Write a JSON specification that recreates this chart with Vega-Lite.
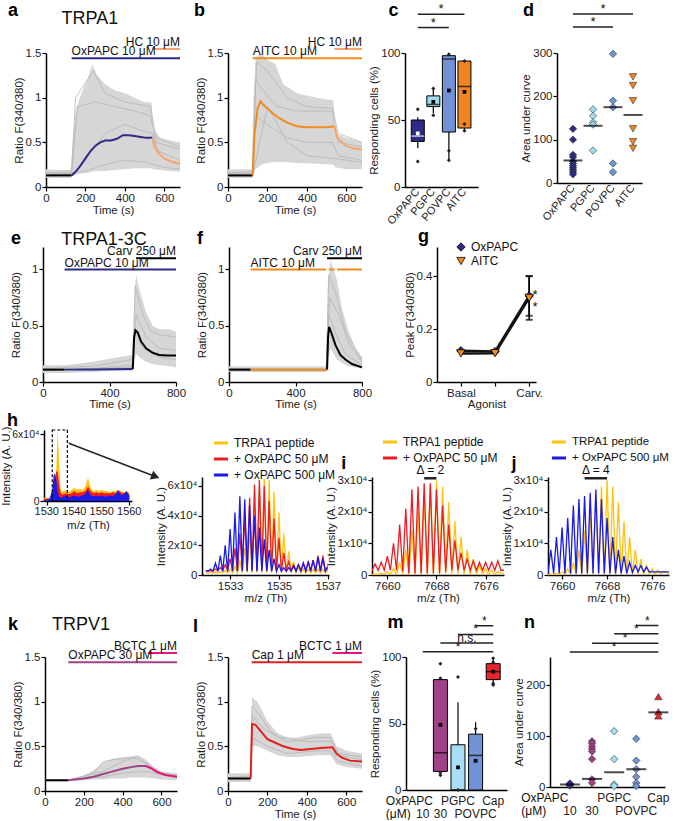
{
"$schema":"https://vega.github.io/schema/vega-lite/v6.json",
"background":"white",
"padding":{"left":0,"top":2,"right":0,"bottom":0},
"config":{
 "font":"Liberation Sans",
 "view":{"stroke":null},
 "axis":{"grid":false,"domainColor":"#000","tickColor":"#000","domainWidth":1.5,"tickWidth":1.2,"tickSize":4,"labelFontSize":11.5,"titleFontSize":11.5,"labelColor":"#222","titleColor":"#222","titleFontWeight":"normal","labelFont":"Liberation Sans","titleFont":"Liberation Sans","labelFlush":false,"labelOverlap":false,"titlePadding":1,"labelPadding":1},
 "text":{"font":"Liberation Sans","fontSize":12,"color":"#111"},
 "legend":{"labelFont":"Liberation Sans","labelFontSize":12,"labelColor":"#111"}
},
"datasets":{
 "a_band":[{"time":0,"lo":0.10,"hi":0.20},{"time":60,"lo":0.10,"hi":0.19},{"time":125,"lo":0.10,"hi":0.19},{"time":135,"lo":0.12,"hi":0.50},{"time":150,"lo":0.14,"hi":0.85},{"time":180,"lo":0.15,"hi":1.05},{"time":210,"lo":0.16,"hi":1.20},{"time":235,"lo":0.17,"hi":1.37},{"time":260,"lo":0.18,"hi":1.25},{"time":300,"lo":0.18,"hi":1.15},{"time":350,"lo":0.19,"hi":1.08},{"time":400,"lo":0.20,"hi":1.05},{"time":450,"lo":0.21,"hi":1.00},{"time":500,"lo":0.21,"hi":0.95},{"time":535,"lo":0.21,"hi":0.95},{"time":545,"lo":0.20,"hi":0.65},{"time":580,"lo":0.19,"hi":0.55},{"time":630,"lo":0.18,"hi":0.52},{"time":680,"lo":0.17,"hi":0.50}],
 "a_grey":[{"cell":1,"time":0,"ratio":0.15},{"cell":1,"time":130,"ratio":0.15},{"cell":1,"time":160,"ratio":0.9},{"cell":1,"time":250,"ratio":0.95},{"cell":1,"time":350,"ratio":0.9},{"cell":1,"time":450,"ratio":0.85},{"cell":1,"time":530,"ratio":0.8},{"cell":1,"time":560,"ratio":0.5},{"cell":1,"time":680,"ratio":0.42},
  {"cell":2,"time":0,"ratio":0.13},{"cell":2,"time":140,"ratio":0.14},{"cell":2,"time":200,"ratio":0.3},{"cell":2,"time":300,"ratio":0.6},{"cell":2,"time":400,"ratio":0.7},{"cell":2,"time":500,"ratio":0.62},{"cell":2,"time":540,"ratio":0.6},{"cell":2,"time":570,"ratio":0.4},{"cell":2,"time":680,"ratio":0.3},
  {"cell":3,"time":0,"ratio":0.16},{"cell":3,"time":130,"ratio":0.17},{"cell":3,"time":150,"ratio":1.0},{"cell":3,"time":240,"ratio":1.3},{"cell":3,"time":300,"ratio":1.05},{"cell":3,"time":400,"ratio":0.95},{"cell":3,"time":530,"ratio":0.9},{"cell":3,"time":560,"ratio":0.55},{"cell":3,"time":680,"ratio":0.45},
  {"cell":4,"time":0,"ratio":0.12},{"cell":4,"time":200,"ratio":0.18},{"cell":4,"time":300,"ratio":0.25},{"cell":4,"time":400,"ratio":0.3},{"cell":4,"time":500,"ratio":0.28},{"cell":4,"time":600,"ratio":0.22},{"cell":4,"time":680,"ratio":0.2}],
 "a_mean":[{"phase":"baseline","time":0,"ratio":0.13},{"phase":"baseline","time":60,"ratio":0.13},{"phase":"baseline","time":130,"ratio":0.13},
  {"phase":"OxPAPC","time":130,"ratio":0.13},{"phase":"OxPAPC","time":150,"ratio":0.17},{"phase":"OxPAPC","time":175,"ratio":0.24},{"phase":"OxPAPC","time":200,"ratio":0.32},{"phase":"OxPAPC","time":225,"ratio":0.40},{"phase":"OxPAPC","time":250,"ratio":0.46},{"phase":"OxPAPC","time":275,"ratio":0.50},{"phase":"OxPAPC","time":300,"ratio":0.52},{"phase":"OxPAPC","time":330,"ratio":0.52},{"phase":"OxPAPC","time":360,"ratio":0.54},{"phase":"OxPAPC","time":390,"ratio":0.58},{"phase":"OxPAPC","time":420,"ratio":0.58},{"phase":"OxPAPC","time":450,"ratio":0.57},{"phase":"OxPAPC","time":480,"ratio":0.56},{"phase":"OxPAPC","time":510,"ratio":0.55},{"phase":"OxPAPC","time":540,"ratio":0.55},
  {"phase":"HC","time":540,"ratio":0.55},{"phase":"HC","time":550,"ratio":0.45},{"phase":"HC","time":570,"ratio":0.38},{"phase":"HC","time":600,"ratio":0.32},{"phase":"HC","time":640,"ratio":0.28},{"phase":"HC","time":680,"ratio":0.26}],
 "a_drugs":[{"phase":"OxPAPC","from":130,"to":680,"level":1,"label":"OxPAPC 10 μM"},{"phase":"HC","from":540,"to":680,"level":2,"label":"HC 10 μM"}],
 "b_band":[{"time":0,"lo":0.10,"hi":0.20},{"time":120,"lo":0.10,"hi":0.20},{"time":130,"lo":0.15,"hi":1.0},{"time":140,"lo":0.2,"hi":1.45},{"time":170,"lo":0.25,"hi":1.5},{"time":200,"lo":0.27,"hi":1.42},{"time":240,"lo":0.28,"hi":1.38},{"time":280,"lo":0.28,"hi":1.15},{"time":350,"lo":0.27,"hi":1.05},{"time":450,"lo":0.26,"hi":1.0},{"time":535,"lo":0.25,"hi":0.97},{"time":545,"lo":0.22,"hi":0.6},{"time":600,"lo":0.2,"hi":0.55},{"time":680,"lo":0.2,"hi":0.5}],
 "b_grey":[{"cell":1,"time":0,"ratio":0.15},{"cell":1,"time":125,"ratio":0.15},{"cell":1,"time":140,"ratio":1.2},{"cell":1,"time":170,"ratio":1.1},{"cell":1,"time":250,"ratio":0.9},{"cell":1,"time":350,"ratio":0.85},{"cell":1,"time":530,"ratio":0.85},{"cell":1,"time":560,"ratio":0.5},{"cell":1,"time":680,"ratio":0.45},
  {"cell":2,"time":0,"ratio":0.13},{"cell":2,"time":125,"ratio":0.13},{"cell":2,"time":200,"ratio":0.9},{"cell":2,"time":240,"ratio":0.75},{"cell":2,"time":300,"ratio":0.5},{"cell":2,"time":400,"ratio":0.35},{"cell":2,"time":530,"ratio":0.32},{"cell":2,"time":680,"ratio":0.28},
  {"cell":3,"time":0,"ratio":0.16},{"cell":3,"time":125,"ratio":0.17},{"cell":3,"time":145,"ratio":1.4},{"cell":3,"time":200,"ratio":1.3},{"cell":3,"time":300,"ratio":1.0},{"cell":3,"time":400,"ratio":0.9},{"cell":3,"time":530,"ratio":0.88},{"cell":3,"time":560,"ratio":0.6},{"cell":3,"time":680,"ratio":0.5},
  {"cell":4,"time":0,"ratio":0.12},{"cell":4,"time":125,"ratio":0.12},{"cell":4,"time":135,"ratio":0.8},{"cell":4,"time":200,"ratio":0.7},{"cell":4,"time":300,"ratio":0.55},{"cell":4,"time":400,"ratio":0.5},{"cell":4,"time":530,"ratio":0.5},{"cell":4,"time":560,"ratio":0.35},{"cell":4,"time":680,"ratio":0.3}],
 "b_mean":[{"phase":"baseline","time":0,"ratio":0.13},{"phase":"baseline","time":60,"ratio":0.13},{"phase":"baseline","time":125,"ratio":0.13},
  {"phase":"AITC","time":125,"ratio":0.13},{"phase":"AITC","time":135,"ratio":0.6},{"phase":"AITC","time":150,"ratio":0.88},{"phase":"AITC","time":165,"ratio":0.96},{"phase":"AITC","time":180,"ratio":0.92},{"phase":"AITC","time":200,"ratio":0.88},{"phase":"AITC","time":230,"ratio":0.82},{"phase":"AITC","time":260,"ratio":0.77},{"phase":"AITC","time":300,"ratio":0.72},{"phase":"AITC","time":350,"ratio":0.68},{"phase":"AITC","time":400,"ratio":0.67},{"phase":"AITC","time":450,"ratio":0.67},{"phase":"AITC","time":500,"ratio":0.67},{"phase":"AITC","time":540,"ratio":0.68},
  {"phase":"HC","time":540,"ratio":0.68},{"phase":"HC","time":555,"ratio":0.55},{"phase":"HC","time":600,"ratio":0.46},{"phase":"HC","time":640,"ratio":0.43},{"phase":"HC","time":680,"ratio":0.42}],
 "b_drugs":[{"phase":"AITC","from":125,"to":680,"level":1,"label":"AITC 10 μM"},{"phase":"HC","from":540,"to":680,"level":2,"label":"HC 10 μM"}],
 "e_band":[{"time":0,"lo":0.08,"hi":0.15},{"time":130,"lo":0.08,"hi":0.15},{"time":300,"lo":0.09,"hi":0.18},{"time":450,"lo":0.1,"hi":0.22},{"time":540,"lo":0.1,"hi":0.24},{"time":550,"lo":0.2,"hi":0.8},{"time":560,"lo":0.25,"hi":0.95},{"time":580,"lo":0.22,"hi":0.82},{"time":620,"lo":0.18,"hi":0.62},{"time":660,"lo":0.16,"hi":0.5},{"time":700,"lo":0.15,"hi":0.47},{"time":760,"lo":0.14,"hi":0.47},{"time":800,"lo":0.13,"hi":0.45}],
 "e_grey":[{"cell":1,"time":0,"ratio":0.12},{"cell":1,"time":300,"ratio":0.14},{"cell":1,"time":540,"ratio":0.2},{"cell":1,"time":555,"ratio":0.85},{"cell":1,"time":600,"ratio":0.6},{"cell":1,"time":650,"ratio":0.45},{"cell":1,"time":700,"ratio":0.42},{"cell":1,"time":800,"ratio":0.4},
  {"cell":2,"time":0,"ratio":0.1},{"cell":2,"time":300,"ratio":0.12},{"cell":2,"time":540,"ratio":0.15},{"cell":2,"time":555,"ratio":0.45},{"cell":2,"time":600,"ratio":0.3},{"cell":2,"time":700,"ratio":0.22},{"cell":2,"time":800,"ratio":0.2},
  {"cell":3,"time":0,"ratio":0.11},{"cell":3,"time":540,"ratio":0.13},{"cell":3,"time":560,"ratio":0.6},{"cell":3,"time":620,"ratio":0.4},{"cell":3,"time":700,"ratio":0.3},{"cell":3,"time":800,"ratio":0.28}],
 "e_mean":[{"phase":"baseline","time":0,"ratio":0.11},{"phase":"baseline","time":130,"ratio":0.11},
  {"phase":"OxPAPC","time":130,"ratio":0.11},{"phase":"OxPAPC","time":300,"ratio":0.112},{"phase":"OxPAPC","time":540,"ratio":0.115},
  {"phase":"Carv","time":540,"ratio":0.115},{"phase":"Carv","time":548,"ratio":0.4},{"phase":"Carv","time":556,"ratio":0.46},{"phase":"Carv","time":570,"ratio":0.44},{"phase":"Carv","time":590,"ratio":0.36},{"phase":"Carv","time":620,"ratio":0.3},{"phase":"Carv","time":660,"ratio":0.26},{"phase":"Carv","time":700,"ratio":0.24},{"phase":"Carv","time":750,"ratio":0.235},{"phase":"Carv","time":800,"ratio":0.235}],
 "e_drugs":[{"phase":"OxPAPC","from":130,"to":800,"level":1,"label":"OxPAPC 10 μM"},{"phase":"Carv","from":560,"to":800,"level":2,"label":"Carv 250 μM"}],
 "f_band":[{"time":0,"lo":0.09,"hi":0.14},{"time":130,"lo":0.09,"hi":0.14},{"time":585,"lo":0.09,"hi":0.14},{"time":595,"lo":0.2,"hi":0.9},{"time":610,"lo":0.3,"hi":1.08},{"time":630,"lo":0.25,"hi":1.0},{"time":650,"lo":0.2,"hi":0.9},{"time":680,"lo":0.17,"hi":0.65},{"time":720,"lo":0.14,"hi":0.45},{"time":760,"lo":0.13,"hi":0.3},{"time":800,"lo":0.12,"hi":0.22}],
 "f_grey":[{"cell":1,"time":0,"ratio":0.11},{"cell":1,"time":585,"ratio":0.11},{"cell":1,"time":600,"ratio":0.95},{"cell":1,"time":640,"ratio":0.8},{"cell":1,"time":700,"ratio":0.45},{"cell":1,"time":800,"ratio":0.2},
  {"cell":2,"time":0,"ratio":0.12},{"cell":2,"time":585,"ratio":0.12},{"cell":2,"time":600,"ratio":0.6},{"cell":2,"time":650,"ratio":0.4},{"cell":2,"time":700,"ratio":0.25},{"cell":2,"time":800,"ratio":0.15},
  {"cell":3,"time":0,"ratio":0.1},{"cell":3,"time":585,"ratio":0.1},{"cell":3,"time":605,"ratio":0.75},{"cell":3,"time":660,"ratio":0.6},{"cell":3,"time":720,"ratio":0.35},{"cell":3,"time":800,"ratio":0.18}],
 "f_mean":[{"phase":"baseline","time":0,"ratio":0.11},{"phase":"baseline","time":130,"ratio":0.11},
  {"phase":"AITC","time":130,"ratio":0.11},{"phase":"AITC","time":590,"ratio":0.11},
  {"phase":"Carv","time":590,"ratio":0.11},{"phase":"Carv","time":596,"ratio":0.4},{"phase":"Carv","time":602,"ratio":0.49},{"phase":"Carv","time":615,"ratio":0.44},{"phase":"Carv","time":640,"ratio":0.33},{"phase":"Carv","time":670,"ratio":0.24},{"phase":"Carv","time":700,"ratio":0.2},{"phase":"Carv","time":740,"ratio":0.16},{"phase":"Carv","time":800,"ratio":0.13}],
 "f_drugs":[{"phase":"AITC","from":130,"to":585,"level":1,"label":"AITC 10 μM"},{"phase":"AITC","from":600,"to":635,"level":1,"label":""},{"phase":"AITC","from":650,"to":800,"level":1,"label":""},{"phase":"Carv","from":590,"to":800,"level":2,"label":"Carv 250 μM"}],
 "k_band":[{"time":0,"lo":0.11,"hi":0.13},{"time":120,"lo":0.11,"hi":0.13},{"time":200,"lo":0.12,"hi":0.17},{"time":260,"lo":0.13,"hi":0.25},{"time":300,"lo":0.13,"hi":0.32},{"time":350,"lo":0.14,"hi":0.36},{"time":400,"lo":0.14,"hi":0.38},{"time":450,"lo":0.15,"hi":0.39},{"time":480,"lo":0.15,"hi":0.40},{"time":520,"lo":0.15,"hi":0.35},{"time":560,"lo":0.14,"hi":0.27},{"time":600,"lo":0.13,"hi":0.22},{"time":680,"lo":0.12,"hi":0.2}],
 "k_grey":[{"cell":1,"time":0,"ratio":0.12},{"cell":1,"time":120,"ratio":0.12},{"cell":1,"time":250,"ratio":0.2},{"cell":1,"time":300,"ratio":0.33},{"cell":1,"time":350,"ratio":0.35},{"cell":1,"time":400,"ratio":0.36},{"cell":1,"time":480,"ratio":0.38},{"cell":1,"time":520,"ratio":0.3},{"cell":1,"time":600,"ratio":0.2},{"cell":1,"time":680,"ratio":0.18},
  {"cell":2,"time":0,"ratio":0.12},{"cell":2,"time":120,"ratio":0.12},{"cell":2,"time":300,"ratio":0.22},{"cell":2,"time":400,"ratio":0.33},{"cell":2,"time":450,"ratio":0.37},{"cell":2,"time":520,"ratio":0.32},{"cell":2,"time":600,"ratio":0.2},{"cell":2,"time":680,"ratio":0.17},
  {"cell":3,"time":0,"ratio":0.12},{"cell":3,"time":120,"ratio":0.12},{"cell":3,"time":300,"ratio":0.16},{"cell":3,"time":400,"ratio":0.2},{"cell":3,"time":520,"ratio":0.22},{"cell":3,"time":680,"ratio":0.15}],
 "k_mean":[{"phase":"baseline","time":0,"ratio":0.12},{"phase":"baseline","time":120,"ratio":0.12},
  {"phase":"OxPAPC","time":120,"ratio":0.12},{"phase":"OxPAPC","time":200,"ratio":0.14},{"phase":"OxPAPC","time":250,"ratio":0.16},{"phase":"OxPAPC","time":300,"ratio":0.19},{"phase":"OxPAPC","time":350,"ratio":0.22},{"phase":"OxPAPC","time":400,"ratio":0.25},{"phase":"OxPAPC","time":450,"ratio":0.27},{"phase":"OxPAPC","time":480,"ratio":0.28},{"phase":"OxPAPC","time":520,"ratio":0.28},
  {"phase":"BCTC","time":520,"ratio":0.28},{"phase":"BCTC","time":550,"ratio":0.25},{"phase":"BCTC","time":580,"ratio":0.21},{"phase":"BCTC","time":620,"ratio":0.18},{"phase":"BCTC","time":680,"ratio":0.16}],
 "k_drugs":[{"phase":"OxPAPC","from":120,"to":680,"level":1,"label":"OxPAPC 30 μM"},{"phase":"BCTC","from":530,"to":680,"level":2,"label":"BCTC 1 μM"}],
 "l_band":[{"time":0,"lo":0.1,"hi":0.2},{"time":115,"lo":0.1,"hi":0.2},{"time":122,"lo":0.5,"hi":1.05},{"time":150,"lo":0.5,"hi":1.0},{"time":200,"lo":0.45,"hi":0.78},{"time":250,"lo":0.4,"hi":0.65},{"time":300,"lo":0.38,"hi":0.6},{"time":350,"lo":0.38,"hi":0.6},{"time":400,"lo":0.39,"hi":0.62},{"time":450,"lo":0.4,"hi":0.64},{"time":520,"lo":0.4,"hi":0.65},{"time":550,"lo":0.3,"hi":0.5},{"time":600,"lo":0.27,"hi":0.45},{"time":680,"lo":0.25,"hi":0.42}],
 "l_grey":[{"cell":1,"time":0,"ratio":0.14},{"cell":1,"time":115,"ratio":0.15},{"cell":1,"time":122,"ratio":0.95},{"cell":1,"time":160,"ratio":0.85},{"cell":1,"time":220,"ratio":0.65},{"cell":1,"time":300,"ratio":0.55},{"cell":1,"time":450,"ratio":0.6},{"cell":1,"time":520,"ratio":0.6},{"cell":1,"time":560,"ratio":0.42},{"cell":1,"time":680,"ratio":0.38},
  {"cell":2,"time":0,"ratio":0.12},{"cell":2,"time":115,"ratio":0.13},{"cell":2,"time":122,"ratio":0.6},{"cell":2,"time":200,"ratio":0.5},{"cell":2,"time":300,"ratio":0.42},{"cell":2,"time":450,"ratio":0.45},{"cell":2,"time":520,"ratio":0.45},{"cell":2,"time":560,"ratio":0.33},{"cell":2,"time":680,"ratio":0.28},
  {"cell":3,"time":0,"ratio":0.15},{"cell":3,"time":115,"ratio":0.17},{"cell":3,"time":122,"ratio":0.85},{"cell":3,"time":180,"ratio":0.7},{"cell":3,"time":260,"ratio":0.6},{"cell":3,"time":400,"ratio":0.55},{"cell":3,"time":520,"ratio":0.56},{"cell":3,"time":560,"ratio":0.4},{"cell":3,"time":680,"ratio":0.35}],
 "l_mean":[{"phase":"baseline","time":0,"ratio":0.14},{"phase":"baseline","time":115,"ratio":0.14},
  {"phase":"Cap","time":115,"ratio":0.14},{"phase":"Cap","time":122,"ratio":0.75},{"phase":"Cap","time":140,"ratio":0.74},{"phase":"Cap","time":170,"ratio":0.66},{"phase":"Cap","time":200,"ratio":0.58},{"phase":"Cap","time":240,"ratio":0.54},{"phase":"Cap","time":280,"ratio":0.5},{"phase":"Cap","time":330,"ratio":0.47},{"phase":"Cap","time":370,"ratio":0.46},{"phase":"Cap","time":420,"ratio":0.47},{"phase":"Cap","time":470,"ratio":0.48},{"phase":"Cap","time":530,"ratio":0.49},{"phase":"Cap","time":550,"ratio":0.42},{"phase":"Cap","time":580,"ratio":0.37},{"phase":"Cap","time":620,"ratio":0.34},{"phase":"Cap","time":680,"ratio":0.33}],
 "l_drugs":[{"phase":"Cap","from":120,"to":680,"level":1,"label":"Cap 1 μM"},{"phase":"BCTC","from":530,"to":680,"level":2,"label":"BCTC 1 μM"}],
 "c_box":[{"agent":"OxPAPC","i":0,"lo":29,"q1":34,"med":38,"q3":50,"hi":52,"mean":40},{"agent":"PGPC","i":1,"lo":55,"q1":60,"med":61.5,"q3":68,"hi":73,"mean":63.5},{"agent":"POVPC","i":2,"lo":20,"q1":41,"med":95.5,"q3":98,"hi":99,"mean":72},{"agent":"AITC","i":3,"lo":41,"q1":44,"med":75,"q3":94,"hi":94,"mean":71}],
 "c_pts":[{"agent":"OxPAPC","i":0,"pct":58},{"agent":"OxPAPC","i":0,"pct":19},{"agent":"PGPC","i":1,"pct":73.5},{"agent":"PGPC","i":1,"pct":53.5},{"agent":"POVPC","i":2,"pct":99},{"agent":"POVPC","i":2,"pct":27},{"agent":"POVPC","i":2,"pct":20},{"agent":"AITC","i":3,"pct":94},{"agent":"AITC","i":3,"pct":47},{"agent":"AITC","i":3,"pct":42}],
 "c_sig":[{"from":0,"to":2,"mid":1,"bracket":119,"label":"*"},{"from":0,"to":3,"mid":1.5,"bracket":129,"label":"*"}],
 "d_pts":[{"agent":"OxPAPC","i":0,"auc":125},{"agent":"OxPAPC","i":0,"auc":100},{"agent":"OxPAPC","i":0,"auc":65},{"agent":"OxPAPC","i":0,"auc":60},{"agent":"OxPAPC","i":0,"auc":50},{"agent":"OxPAPC","i":0,"auc":45},{"agent":"OxPAPC","i":0,"auc":40},{"agent":"OxPAPC","i":0,"auc":35},{"agent":"OxPAPC","i":0,"auc":30},{"agent":"OxPAPC","i":0,"auc":25},{"agent":"OxPAPC","i":0,"auc":20},
  {"agent":"PGPC","i":1,"auc":170},{"agent":"PGPC","i":1,"auc":155},{"agent":"PGPC","i":1,"auc":140},{"agent":"PGPC","i":1,"auc":135},{"agent":"PGPC","i":1,"auc":75},
  {"agent":"POVPC","i":2,"auc":298},{"agent":"POVPC","i":2,"auc":190},{"agent":"POVPC","i":2,"auc":175},{"agent":"POVPC","i":2,"auc":45},{"agent":"POVPC","i":2,"auc":25},
  {"agent":"AITC","i":3,"auc":245},{"agent":"AITC","i":3,"auc":225},{"agent":"AITC","i":3,"auc":190},{"agent":"AITC","i":3,"auc":125},{"agent":"AITC","i":3,"auc":95},{"agent":"AITC","i":3,"auc":80}],
 "d_mean":[{"agent":"OxPAPC","i":0,"auc":52},{"agent":"PGPC","i":1,"auc":132},{"agent":"POVPC","i":2,"auc":175},{"agent":"AITC","i":3,"auc":157}],
 "d_sig":[{"from":0,"to":2,"mid":1,"bracket":360,"label":"*"},{"from":0,"to":3,"mid":1.5,"bracket":390,"label":"*"}],
 "g_pts":[{"agonist":"OxPAPC","stage":0,"peak":0.118},{"agonist":"OxPAPC","stage":1,"peak":0.115},{"agonist":"OxPAPC","stage":2,"peak":0.325},{"agonist":"AITC","stage":0,"peak":0.108},{"agonist":"AITC","stage":1,"peak":0.109},{"agonist":"AITC","stage":2,"peak":0.318}],
 "g_err":[{"agonist":"OxPAPC","stage":2,"lo":0.25,"hi":0.40},{"agonist":"AITC","stage":2,"lo":0.235,"hi":0.40}],
 "h_ticks":[{"mz":1530},{"mz":1540},{"mz":1550},{"mz":1560}],
 "mn_cats":[{"i":0,"cat":"10","tier":2},{"i":1,"cat":"30","tier":2},{"i":2,"cat":"PGPC","tier":1},{"i":3,"cat":"POVPC","tier":2},{"i":4,"cat":"Cap","tier":1}],
 "h_full":[
  {"sample":"pep","mz":1529,"intensity":3000},{"sample":"pep","mz":1530,"intensity":3000},{"sample":"pep","mz":1531,"intensity":3000},{"sample":"pep","mz":1532,"intensity":4000},{"sample":"pep","mz":1532.5,"intensity":6000},{"sample":"pep","mz":1533,"intensity":15000},{"sample":"pep","mz":1533.5,"intensity":30000},{"sample":"pep","mz":1534,"intensity":64000},{"sample":"pep","mz":1534.5,"intensity":35000},{"sample":"pep","mz":1535,"intensity":12000},{"sample":"pep","mz":1535.5,"intensity":8000},{"sample":"pep","mz":1536,"intensity":9000},{"sample":"pep","mz":1537,"intensity":10000},{"sample":"pep","mz":1538,"intensity":8000},{"sample":"pep","mz":1539,"intensity":10000},{"sample":"pep","mz":1540,"intensity":12000},{"sample":"pep","mz":1541,"intensity":10000},{"sample":"pep","mz":1542,"intensity":11000},{"sample":"pep","mz":1543,"intensity":10000},{"sample":"pep","mz":1544,"intensity":13000},{"sample":"pep","mz":1545,"intensity":21000},{"sample":"pep","mz":1546,"intensity":12000},{"sample":"pep","mz":1547,"intensity":9000},{"sample":"pep","mz":1548,"intensity":10000},{"sample":"pep","mz":1549,"intensity":9000},{"sample":"pep","mz":1550,"intensity":10000},{"sample":"pep","mz":1551,"intensity":9000},{"sample":"pep","mz":1552,"intensity":9000},{"sample":"pep","mz":1553,"intensity":8000},{"sample":"pep","mz":1554,"intensity":9000},{"sample":"pep","mz":1555,"intensity":9000},{"sample":"pep","mz":1556,"intensity":10000},{"sample":"pep","mz":1557,"intensity":9000},{"sample":"pep","mz":1558,"intensity":8000},{"sample":"pep","mz":1559,"intensity":9000},{"sample":"pep","mz":1560,"intensity":8000},
  {"sample":"ox50","mz":1529,"intensity":2000},{"sample":"ox50","mz":1530,"intensity":2000},{"sample":"ox50","mz":1531,"intensity":2000},{"sample":"ox50","mz":1532,"intensity":4000},{"sample":"ox50","mz":1532.5,"intensity":8000},{"sample":"ox50","mz":1533,"intensity":20000},{"sample":"ox50","mz":1533.5,"intensity":27000},{"sample":"ox50","mz":1534,"intensity":26000},{"sample":"ox50","mz":1534.5,"intensity":15000},{"sample":"ox50","mz":1535,"intensity":8000},{"sample":"ox50","mz":1535.5,"intensity":6000},{"sample":"ox50","mz":1536,"intensity":6000},{"sample":"ox50","mz":1537,"intensity":7000},{"sample":"ox50","mz":1538,"intensity":6000},{"sample":"ox50","mz":1539,"intensity":7000},{"sample":"ox50","mz":1540,"intensity":9000},{"sample":"ox50","mz":1541,"intensity":7000},{"sample":"ox50","mz":1542,"intensity":8000},{"sample":"ox50","mz":1543,"intensity":8000},{"sample":"ox50","mz":1544,"intensity":9000},{"sample":"ox50","mz":1545,"intensity":13000},{"sample":"ox50","mz":1546,"intensity":9000},{"sample":"ox50","mz":1547,"intensity":7000},{"sample":"ox50","mz":1548,"intensity":8000},{"sample":"ox50","mz":1549,"intensity":7000},{"sample":"ox50","mz":1550,"intensity":8000},{"sample":"ox50","mz":1551,"intensity":7000},{"sample":"ox50","mz":1552,"intensity":7000},{"sample":"ox50","mz":1553,"intensity":7000},{"sample":"ox50","mz":1554,"intensity":8000},{"sample":"ox50","mz":1555,"intensity":7000},{"sample":"ox50","mz":1556,"intensity":9000},{"sample":"ox50","mz":1557,"intensity":8000},{"sample":"ox50","mz":1558,"intensity":7000},{"sample":"ox50","mz":1559,"intensity":8000},{"sample":"ox50","mz":1560,"intensity":6000},
  {"sample":"ox500","mz":1529,"intensity":1000},{"sample":"ox500","mz":1530,"intensity":1000},{"sample":"ox500","mz":1531,"intensity":2000},{"sample":"ox500","mz":1532,"intensity":10000},{"sample":"ox500","mz":1532.5,"intensity":23000},{"sample":"ox500","mz":1533,"intensity":25000},{"sample":"ox500","mz":1533.5,"intensity":18000},{"sample":"ox500","mz":1534,"intensity":8000},{"sample":"ox500","mz":1534.5,"intensity":4000},{"sample":"ox500","mz":1535,"intensity":3000},{"sample":"ox500","mz":1535.5,"intensity":3000},{"sample":"ox500","mz":1536,"intensity":4000},{"sample":"ox500","mz":1537,"intensity":5000},{"sample":"ox500","mz":1538,"intensity":3000},{"sample":"ox500","mz":1539,"intensity":4000},{"sample":"ox500","mz":1540,"intensity":5000},{"sample":"ox500","mz":1541,"intensity":4000},{"sample":"ox500","mz":1542,"intensity":4000},{"sample":"ox500","mz":1543,"intensity":5000},{"sample":"ox500","mz":1544,"intensity":6000},{"sample":"ox500","mz":1545,"intensity":10000},{"sample":"ox500","mz":1546,"intensity":5000},{"sample":"ox500","mz":1547,"intensity":4000},{"sample":"ox500","mz":1548,"intensity":5000},{"sample":"ox500","mz":1549,"intensity":4000},{"sample":"ox500","mz":1550,"intensity":5000},{"sample":"ox500","mz":1551,"intensity":4000},{"sample":"ox500","mz":1552,"intensity":4000},{"sample":"ox500","mz":1553,"intensity":5000},{"sample":"ox500","mz":1554,"intensity":4000},{"sample":"ox500","mz":1555,"intensity":6000},{"sample":"ox500","mz":1556,"intensity":10000},{"sample":"ox500","mz":1557,"intensity":5000},{"sample":"ox500","mz":1558,"intensity":6000},{"sample":"ox500","mz":1559,"intensity":9000},{"sample":"ox500","mz":1560,"intensity":5000}],
 "h_zoom":[
  {"sample":"pep","mz":1532.0,"intensity":2000},{"sample":"pep","mz":1532.1,"intensity":1500},{"sample":"pep","mz":1532.2,"intensity":2000},{"sample":"pep","mz":1532.3,"intensity":1500},{"sample":"pep","mz":1532.4,"intensity":2000},{"sample":"pep","mz":1532.5,"intensity":1500},{"sample":"pep","mz":1532.6,"intensity":2000},{"sample":"pep","mz":1532.7,"intensity":1500},{"sample":"pep","mz":1532.8,"intensity":3000},{"sample":"pep","mz":1532.9,"intensity":1500},{"sample":"pep","mz":1533.0,"intensity":4000},{"sample":"pep","mz":1533.1,"intensity":1500},{"sample":"pep","mz":1533.2,"intensity":6000},{"sample":"pep","mz":1533.3,"intensity":1500},{"sample":"pep","mz":1533.4,"intensity":10000},{"sample":"pep","mz":1533.5,"intensity":1500},{"sample":"pep","mz":1533.6,"intensity":18000},{"sample":"pep","mz":1533.7,"intensity":1500},{"sample":"pep","mz":1533.8,"intensity":30000},{"sample":"pep","mz":1533.9,"intensity":1500},{"sample":"pep","mz":1534.0,"intensity":45000},{"sample":"pep","mz":1534.1,"intensity":1500},{"sample":"pep","mz":1534.2,"intensity":58000},{"sample":"pep","mz":1534.3,"intensity":1500},{"sample":"pep","mz":1534.4,"intensity":65000},{"sample":"pep","mz":1534.5,"intensity":1500},{"sample":"pep","mz":1534.6,"intensity":64000},{"sample":"pep","mz":1534.7,"intensity":1500},{"sample":"pep","mz":1534.8,"intensity":56000},{"sample":"pep","mz":1534.9,"intensity":1500},{"sample":"pep","mz":1535.0,"intensity":42000},{"sample":"pep","mz":1535.1,"intensity":1500},{"sample":"pep","mz":1535.2,"intensity":28000},{"sample":"pep","mz":1535.3,"intensity":1500},{"sample":"pep","mz":1535.4,"intensity":16000},{"sample":"pep","mz":1535.5,"intensity":1500},{"sample":"pep","mz":1535.6,"intensity":9000},{"sample":"pep","mz":1535.7,"intensity":1500},{"sample":"pep","mz":1535.8,"intensity":5000},{"sample":"pep","mz":1535.9,"intensity":1500},{"sample":"pep","mz":1536.0,"intensity":4000},{"sample":"pep","mz":1536.1,"intensity":1500},{"sample":"pep","mz":1536.2,"intensity":4000},{"sample":"pep","mz":1536.3,"intensity":1500},{"sample":"pep","mz":1536.4,"intensity":4000},{"sample":"pep","mz":1536.5,"intensity":1500},{"sample":"pep","mz":1536.6,"intensity":4000},{"sample":"pep","mz":1536.7,"intensity":1500},{"sample":"pep","mz":1536.8,"intensity":4000},{"sample":"pep","mz":1536.9,"intensity":1500},{"sample":"pep","mz":1537.0,"intensity":3000},
  {"sample":"ox50","mz":1532.0,"intensity":3000},{"sample":"ox50","mz":1532.1,"intensity":3000},{"sample":"ox50","mz":1532.2,"intensity":3000},{"sample":"ox50","mz":1532.3,"intensity":3000},{"sample":"ox50","mz":1532.4,"intensity":4000},{"sample":"ox50","mz":1532.5,"intensity":3000},{"sample":"ox50","mz":1532.6,"intensity":5000},{"sample":"ox50","mz":1532.7,"intensity":3000},{"sample":"ox50","mz":1532.8,"intensity":7000},{"sample":"ox50","mz":1532.9,"intensity":3000},{"sample":"ox50","mz":1533.0,"intensity":11000},{"sample":"ox50","mz":1533.1,"intensity":3000},{"sample":"ox50","mz":1533.2,"intensity":18000},{"sample":"ox50","mz":1533.3,"intensity":3000},{"sample":"ox50","mz":1533.4,"intensity":28000},{"sample":"ox50","mz":1533.5,"intensity":3000},{"sample":"ox50","mz":1533.6,"intensity":40000},{"sample":"ox50","mz":1533.7,"intensity":3000},{"sample":"ox50","mz":1533.8,"intensity":52000},{"sample":"ox50","mz":1533.9,"intensity":3000},{"sample":"ox50","mz":1534.0,"intensity":61000},{"sample":"ox50","mz":1534.1,"intensity":3000},{"sample":"ox50","mz":1534.2,"intensity":64000},{"sample":"ox50","mz":1534.3,"intensity":3000},{"sample":"ox50","mz":1534.4,"intensity":60000},{"sample":"ox50","mz":1534.5,"intensity":3000},{"sample":"ox50","mz":1534.6,"intensity":50000},{"sample":"ox50","mz":1534.7,"intensity":3000},{"sample":"ox50","mz":1534.8,"intensity":38000},{"sample":"ox50","mz":1534.9,"intensity":3000},{"sample":"ox50","mz":1535.0,"intensity":25000},{"sample":"ox50","mz":1535.1,"intensity":3000},{"sample":"ox50","mz":1535.2,"intensity":15000},{"sample":"ox50","mz":1535.3,"intensity":3000},{"sample":"ox50","mz":1535.4,"intensity":9000},{"sample":"ox50","mz":1535.5,"intensity":3000},{"sample":"ox50","mz":1535.6,"intensity":7000},{"sample":"ox50","mz":1535.7,"intensity":3000},{"sample":"ox50","mz":1535.8,"intensity":7000},{"sample":"ox50","mz":1535.9,"intensity":3000},{"sample":"ox50","mz":1536.0,"intensity":8000},{"sample":"ox50","mz":1536.1,"intensity":3000},{"sample":"ox50","mz":1536.2,"intensity":9000},{"sample":"ox50","mz":1536.3,"intensity":3000},{"sample":"ox50","mz":1536.4,"intensity":10000},{"sample":"ox50","mz":1536.5,"intensity":3000},{"sample":"ox50","mz":1536.6,"intensity":13000},{"sample":"ox50","mz":1536.7,"intensity":3000},{"sample":"ox50","mz":1536.8,"intensity":13000},{"sample":"ox50","mz":1536.9,"intensity":3000},{"sample":"ox50","mz":1537.0,"intensity":6000},
  {"sample":"ox500","mz":1532.0,"intensity":3000},{"sample":"ox500","mz":1532.1,"intensity":2500},{"sample":"ox500","mz":1532.2,"intensity":4000},{"sample":"ox500","mz":1532.3,"intensity":2500},{"sample":"ox500","mz":1532.4,"intensity":8000},{"sample":"ox500","mz":1532.5,"intensity":2500},{"sample":"ox500","mz":1532.6,"intensity":13000},{"sample":"ox500","mz":1532.7,"intensity":2500},{"sample":"ox500","mz":1532.8,"intensity":20000},{"sample":"ox500","mz":1532.9,"intensity":2500},{"sample":"ox500","mz":1533.0,"intensity":31000},{"sample":"ox500","mz":1533.1,"intensity":2500},{"sample":"ox500","mz":1533.2,"intensity":42000},{"sample":"ox500","mz":1533.3,"intensity":2500},{"sample":"ox500","mz":1533.4,"intensity":53000},{"sample":"ox500","mz":1533.5,"intensity":2500},{"sample":"ox500","mz":1533.6,"intensity":51000},{"sample":"ox500","mz":1533.7,"intensity":2500},{"sample":"ox500","mz":1533.8,"intensity":47000},{"sample":"ox500","mz":1533.9,"intensity":2500},{"sample":"ox500","mz":1534.0,"intensity":40000},{"sample":"ox500","mz":1534.1,"intensity":2500},{"sample":"ox500","mz":1534.2,"intensity":32000},{"sample":"ox500","mz":1534.3,"intensity":2500},{"sample":"ox500","mz":1534.4,"intensity":24000},{"sample":"ox500","mz":1534.5,"intensity":2500},{"sample":"ox500","mz":1534.6,"intensity":17000},{"sample":"ox500","mz":1534.7,"intensity":2500},{"sample":"ox500","mz":1534.8,"intensity":11000},{"sample":"ox500","mz":1534.9,"intensity":2500},{"sample":"ox500","mz":1535.0,"intensity":7000},{"sample":"ox500","mz":1535.1,"intensity":2500},{"sample":"ox500","mz":1535.2,"intensity":5000},{"sample":"ox500","mz":1535.3,"intensity":2500},{"sample":"ox500","mz":1535.4,"intensity":5000},{"sample":"ox500","mz":1535.5,"intensity":2500},{"sample":"ox500","mz":1535.6,"intensity":6000},{"sample":"ox500","mz":1535.7,"intensity":2500},{"sample":"ox500","mz":1535.8,"intensity":7000},{"sample":"ox500","mz":1535.9,"intensity":2500},{"sample":"ox500","mz":1536.0,"intensity":8000},{"sample":"ox500","mz":1536.1,"intensity":2500},{"sample":"ox500","mz":1536.2,"intensity":9000},{"sample":"ox500","mz":1536.3,"intensity":2500},{"sample":"ox500","mz":1536.4,"intensity":10000},{"sample":"ox500","mz":1536.5,"intensity":2500},{"sample":"ox500","mz":1536.6,"intensity":12000},{"sample":"ox500","mz":1536.7,"intensity":2500},{"sample":"ox500","mz":1536.8,"intensity":11000},{"sample":"ox500","mz":1536.9,"intensity":2500},{"sample":"ox500","mz":1537.0,"intensity":5000}],
 "ij":[
  {"sample":"pep","mz":7657,"intensity":300},{"sample":"pep","mz":7657.5,"intensity":200},{"sample":"pep","mz":7658,"intensity":300},{"sample":"pep","mz":7658.5,"intensity":200},{"sample":"pep","mz":7659,"intensity":500},{"sample":"pep","mz":7659.5,"intensity":200},{"sample":"pep","mz":7660,"intensity":1000},{"sample":"pep","mz":7660.5,"intensity":200},{"sample":"pep","mz":7661,"intensity":2000},{"sample":"pep","mz":7661.5,"intensity":200},{"sample":"pep","mz":7662,"intensity":4000},{"sample":"pep","mz":7662.5,"intensity":200},{"sample":"pep","mz":7663,"intensity":8000},{"sample":"pep","mz":7663.5,"intensity":200},{"sample":"pep","mz":7664,"intensity":14000},{"sample":"pep","mz":7664.5,"intensity":200},{"sample":"pep","mz":7665,"intensity":20000},{"sample":"pep","mz":7665.5,"intensity":200},{"sample":"pep","mz":7666,"intensity":25000},{"sample":"pep","mz":7666.5,"intensity":200},{"sample":"pep","mz":7667,"intensity":28000},{"sample":"pep","mz":7667.5,"intensity":200},{"sample":"pep","mz":7668,"intensity":30000},{"sample":"pep","mz":7668.5,"intensity":200},{"sample":"pep","mz":7669,"intensity":28000},{"sample":"pep","mz":7669.5,"intensity":200},{"sample":"pep","mz":7670,"intensity":23000},{"sample":"pep","mz":7670.5,"intensity":200},{"sample":"pep","mz":7671,"intensity":17000},{"sample":"pep","mz":7671.5,"intensity":200},{"sample":"pep","mz":7672,"intensity":12000},{"sample":"pep","mz":7672.5,"intensity":200},{"sample":"pep","mz":7673,"intensity":8000},{"sample":"pep","mz":7673.5,"intensity":200},{"sample":"pep","mz":7674,"intensity":5000},{"sample":"pep","mz":7674.5,"intensity":200},{"sample":"pep","mz":7675,"intensity":3000},{"sample":"pep","mz":7675.5,"intensity":200},{"sample":"pep","mz":7676,"intensity":2000},{"sample":"pep","mz":7676.5,"intensity":200},{"sample":"pep","mz":7677,"intensity":1500},{"sample":"pep","mz":7677.5,"intensity":200},{"sample":"pep","mz":7678,"intensity":1000},{"sample":"pep","mz":7679,"intensity":400},
  {"sample":"ox50","mz":7657,"intensity":2500},{"sample":"ox50","mz":7657.5,"intensity":1500},{"sample":"ox50","mz":7658,"intensity":3500},{"sample":"ox50","mz":7658.5,"intensity":1500},{"sample":"ox50","mz":7659,"intensity":4000},{"sample":"ox50","mz":7659.5,"intensity":1500},{"sample":"ox50","mz":7660,"intensity":6000},{"sample":"ox50","mz":7660.5,"intensity":1500},{"sample":"ox50","mz":7661,"intensity":10000},{"sample":"ox50","mz":7661.5,"intensity":1500},{"sample":"ox50","mz":7662,"intensity":16000},{"sample":"ox50","mz":7662.5,"intensity":1200},{"sample":"ox50","mz":7663,"intensity":21000},{"sample":"ox50","mz":7663.5,"intensity":500},{"sample":"ox50","mz":7664,"intensity":27000},{"sample":"ox50","mz":7664.5,"intensity":500},{"sample":"ox50","mz":7665,"intensity":28000},{"sample":"ox50","mz":7665.5,"intensity":500},{"sample":"ox50","mz":7666,"intensity":29000},{"sample":"ox50","mz":7666.5,"intensity":500},{"sample":"ox50","mz":7667,"intensity":29000},{"sample":"ox50","mz":7667.5,"intensity":500},{"sample":"ox50","mz":7668,"intensity":27000},{"sample":"ox50","mz":7668.5,"intensity":500},{"sample":"ox50","mz":7669,"intensity":22000},{"sample":"ox50","mz":7669.5,"intensity":1000},{"sample":"ox50","mz":7670,"intensity":16000},{"sample":"ox50","mz":7670.5,"intensity":1500},{"sample":"ox50","mz":7671,"intensity":11000},{"sample":"ox50","mz":7671.5,"intensity":1500},{"sample":"ox50","mz":7672,"intensity":7000},{"sample":"ox50","mz":7672.5,"intensity":1500},{"sample":"ox50","mz":7673,"intensity":5000},{"sample":"ox50","mz":7673.5,"intensity":1500},{"sample":"ox50","mz":7674,"intensity":4500},{"sample":"ox50","mz":7674.5,"intensity":1500},{"sample":"ox50","mz":7675,"intensity":4000},{"sample":"ox50","mz":7675.5,"intensity":1500},{"sample":"ox50","mz":7676,"intensity":4000},{"sample":"ox50","mz":7676.5,"intensity":1500},{"sample":"ox50","mz":7677,"intensity":4000},{"sample":"ox50","mz":7677.5,"intensity":1500},{"sample":"ox50","mz":7678,"intensity":4500},{"sample":"ox50","mz":7678.5,"intensity":1500},{"sample":"ox50","mz":7679,"intensity":1500},
  {"sample":"ox500","mz":7657,"intensity":5000},{"sample":"ox500","mz":7657.5,"intensity":500},{"sample":"ox500","mz":7658,"intensity":8000},{"sample":"ox500","mz":7658.5,"intensity":500},{"sample":"ox500","mz":7659,"intensity":12000},{"sample":"ox500","mz":7659.5,"intensity":500},{"sample":"ox500","mz":7660,"intensity":15000},{"sample":"ox500","mz":7660.5,"intensity":500},{"sample":"ox500","mz":7661,"intensity":18000},{"sample":"ox500","mz":7661.5,"intensity":500},{"sample":"ox500","mz":7662,"intensity":22000},{"sample":"ox500","mz":7662.5,"intensity":500},{"sample":"ox500","mz":7663,"intensity":24000},{"sample":"ox500","mz":7663.5,"intensity":500},{"sample":"ox500","mz":7664,"intensity":25000},{"sample":"ox500","mz":7664.5,"intensity":500},{"sample":"ox500","mz":7665,"intensity":26000},{"sample":"ox500","mz":7665.5,"intensity":500},{"sample":"ox500","mz":7666,"intensity":27000},{"sample":"ox500","mz":7666.5,"intensity":500},{"sample":"ox500","mz":7667,"intensity":24000},{"sample":"ox500","mz":7667.5,"intensity":500},{"sample":"ox500","mz":7668,"intensity":18000},{"sample":"ox500","mz":7668.5,"intensity":500},{"sample":"ox500","mz":7669,"intensity":12000},{"sample":"ox500","mz":7669.5,"intensity":500},{"sample":"ox500","mz":7670,"intensity":8000},{"sample":"ox500","mz":7670.5,"intensity":500},{"sample":"ox500","mz":7671,"intensity":6000},{"sample":"ox500","mz":7671.5,"intensity":500},{"sample":"ox500","mz":7672,"intensity":4000},{"sample":"ox500","mz":7672.5,"intensity":800},{"sample":"ox500","mz":7673,"intensity":3000},{"sample":"ox500","mz":7673.5,"intensity":1000},{"sample":"ox500","mz":7674,"intensity":3000},{"sample":"ox500","mz":7674.5,"intensity":1000},{"sample":"ox500","mz":7675,"intensity":2500},{"sample":"ox500","mz":7675.5,"intensity":1000},{"sample":"ox500","mz":7679,"intensity":1000}],
 "m_box":[{"agent":"OxPAPC 30","i":1,"lo":11,"q1":14,"med":28,"q3":83,"hi":84,"mean":49},{"agent":"PGPC","i":2,"lo":0,"q1":0,"med":0,"q3":34,"hi":66,"mean":17},{"agent":"POVPC","i":3,"lo":0,"q1":0,"med":26,"q3":42,"hi":51,"mean":22},{"agent":"Cap","i":4,"lo":79,"q1":83,"med":89,"q3":95,"hi":99,"mean":89}],
 "m_pts":[{"agent":"OxPAPC 30","i":1,"pct":95},{"agent":"OxPAPC 30","i":1,"pct":84},{"agent":"OxPAPC 30","i":1,"pct":13},{"agent":"OxPAPC 30","i":1,"pct":11},{"agent":"PGPC","i":2,"pct":85},{"agent":"PGPC","i":2,"pct":0},{"agent":"POVPC","i":3,"pct":46},{"agent":"Cap","i":4,"pct":99},{"agent":"Cap","i":4,"pct":96},{"agent":"Cap","i":4,"pct":80},{"agent":"Cap","i":4,"pct":79}],
 "m_sig":[{"from":0,"to":4,"mid":2,"bracket":104,"label":"*"},{"from":1,"to":4,"mid":2.5,"bracket":110.5,"label":"n.s."},{"from":2,"to":4,"mid":3,"bracket":117,"label":"*"},{"from":3,"to":4,"mid":3.5,"bracket":123.5,"label":"*"}],
 "n_pts":[{"agent":"OxPAPC 10","i":0,"auc":4},{"agent":"OxPAPC 10","i":0,"auc":5},{"agent":"OxPAPC 10","i":0,"auc":6},{"agent":"OxPAPC 10","i":0,"auc":3},{"agent":"OxPAPC 10","i":0,"auc":7},
  {"agent":"OxPAPC 30","i":1,"auc":90},{"agent":"OxPAPC 30","i":1,"auc":86},{"agent":"OxPAPC 30","i":1,"auc":80},{"agent":"OxPAPC 30","i":1,"auc":75},{"agent":"OxPAPC 30","i":1,"auc":70},{"agent":"OxPAPC 30","i":1,"auc":55},{"agent":"OxPAPC 30","i":1,"auc":15},{"agent":"OxPAPC 30","i":1,"auc":8},
  {"agent":"PGPC","i":2,"auc":110},{"agent":"PGPC","i":2,"auc":55},{"agent":"PGPC","i":2,"auc":5},{"agent":"PGPC","i":2,"auc":2},
  {"agent":"POVPC","i":3,"auc":95},{"agent":"POVPC","i":3,"auc":52},{"agent":"POVPC","i":3,"auc":35},{"agent":"POVPC","i":3,"auc":20},{"agent":"POVPC","i":3,"auc":8},{"agent":"POVPC","i":3,"auc":2},
  {"agent":"Cap","i":4,"auc":178},{"agent":"Cap","i":4,"auc":148},{"agent":"Cap","i":4,"auc":140}],
 "n_mean":[{"agent":"OxPAPC 10","i":0,"auc":5},{"agent":"OxPAPC 30","i":1,"auc":16},{"agent":"PGPC","i":2,"auc":29},{"agent":"POVPC","i":3,"auc":35},{"agent":"Cap","i":4,"auc":147}],
 "n_sig":[{"from":0,"to":4,"mid":2,"bracket":266,"label":"*"},{"from":1,"to":4,"mid":2.5,"bracket":283,"label":"*"},{"from":2,"to":4,"mid":3,"bracket":302,"label":"*"},{"from":3,"to":4,"mid":3.5,"bracket":318,"label":"*"}]
},
"bounds":"full",
"spacing":0,
"resolve":{"scale":{"color":"independent","shape":"independent"},"legend":{"color":"independent","shape":"independent"}},
"vconcat":[
 {"bounds":"flush","spacing":0,
  "resolve":{"scale":{"color":"independent","shape":"independent"},"legend":{"color":"independent","shape":"independent"}},
  "hconcat":[
  {"width":46,"height":1,"data":{"values":[]},"mark":"point"},
  {"width":134,"height":134,
   "layer":[
    {"data":{"name":"a_band"},"mark":{"type":"area","color":"#d6d6d6","opacity":1},"encoding":{"x":{"field":"time","type":"quantitative","scale":{"domain":[0,680],"nice":false},"axis":{"title":"Time (s)","values":[0,100,200,300,400,500,600],"labelExpr":"datum.value % 200 == 0 ? datum.label : ''"}},"y":{"field":"lo","type":"quantitative","scale":{"domain":[0,1.5],"nice":false},"axis":{"title":"Ratio F(340/380)","values":[0,0.5,1,1.5],"format":"~g"}},"y2":{"field":"hi"}}},
    {"data":{"name":"a_grey"},"mark":{"type":"line","color":"#b5b5b5","strokeWidth":0.8},"encoding":{"x":{"field":"time","type":"quantitative"},"y":{"field":"ratio","type":"quantitative"},"detail":{"field":"cell","type":"nominal"}}},
    {"data":{"name":"a_mean"},"mark":{"type":"line","strokeWidth":2},"encoding":{"x":{"field":"time","type":"quantitative"},"y":{"field":"ratio","type":"quantitative"},"color":{"field":"phase","type":"nominal","scale":{"domain":["baseline","OxPAPC","HC"],"range":["#000000","#2e2b87","#f7a468"]},"legend":null}}},
    {"data":{"name":"a_drugs"},"transform":[{"filter":"datum.level==1"}],"mark":{"type":"rule","strokeWidth":2},"encoding":{"x":{"field":"from","type":"quantitative"},"x2":{"field":"to"},"y":{"datum":1.44},"color":{"field":"phase","type":"nominal","scale":{"domain":["baseline","OxPAPC","HC"],"range":["#000000","#2e2b87","#f7a468"]},"legend":null}}},
    {"data":{"name":"a_drugs"},"transform":[{"filter":"datum.level==2"}],"mark":{"type":"rule","strokeWidth":2},"encoding":{"x":{"field":"from","type":"quantitative"},"x2":{"field":"to"},"y":{"datum":1.545},"color":{"field":"phase","type":"nominal","scale":{"domain":["baseline","OxPAPC","HC"],"range":["#000000","#2e2b87","#f7a468"]},"legend":null}}},
    {"data":{"name":"a_drugs"},"transform":[{"filter":"datum.level==1"}],"mark":{"type":"text","align":"left","baseline":"alphabetic","dy":-3},"encoding":{"x":{"field":"from","type":"quantitative"},"y":{"datum":1.44},"text":{"field":"label"}}},
    {"data":{"name":"a_drugs"},"transform":[{"filter":"datum.level==2"}],"mark":{"type":"text","align":"right","baseline":"alphabetic","dy":-3},"encoding":{"x":{"field":"to","type":"quantitative"},"y":{"datum":1.545},"text":{"field":"label"}}},
    {"data":{"values":[{"gene":"TRPA1"}]},"mark":{"type":"text","fontSize":18,"align":"center","baseline":"alphabetic"},"encoding":{"x":{"datum":223},"y":{"datum":1.83},"text":{"field":"gene"}}},
    {"data":{"values":[{"panel":"a"}]},"mark":{"type":"text","fontSize":18,"fontWeight":"bold","align":"left","baseline":"alphabetic","color":"#000"},"encoding":{"x":{"datum":-193},"y":{"datum":1.914},"text":{"field":"panel"}}}
   ]},
  {"width":48,"height":1,"data":{"values":[]},"mark":"point"},
  {"width":134,"height":134,
   "layer":[
    {"data":{"name":"b_band"},"mark":{"type":"area","color":"#d6d6d6","opacity":1},"encoding":{"x":{"field":"time","type":"quantitative","scale":{"domain":[0,680],"nice":false},"axis":{"title":"Time (s)","values":[0,100,200,300,400,500,600],"labelExpr":"datum.value % 200 == 0 ? datum.label : ''"}},"y":{"field":"lo","type":"quantitative","scale":{"domain":[0,1.5],"nice":false},"axis":{"title":"Ratio F(340/380)","values":[0,0.5,1,1.5],"format":"~g"}},"y2":{"field":"hi"}}},
    {"data":{"name":"b_grey"},"mark":{"type":"line","color":"#b5b5b5","strokeWidth":0.8},"encoding":{"x":{"field":"time","type":"quantitative"},"y":{"field":"ratio","type":"quantitative"},"detail":{"field":"cell","type":"nominal"}}},
    {"data":{"name":"b_mean"},"mark":{"type":"line","strokeWidth":2},"encoding":{"x":{"field":"time","type":"quantitative"},"y":{"field":"ratio","type":"quantitative"},"color":{"field":"phase","type":"nominal","scale":{"domain":["baseline","AITC","HC"],"range":["#000000","#f28a1e","#f7a468"]},"legend":null}}},
    {"data":{"name":"b_drugs"},"transform":[{"filter":"datum.level==1"}],"mark":{"type":"rule","strokeWidth":2},"encoding":{"x":{"field":"from","type":"quantitative"},"x2":{"field":"to"},"y":{"datum":1.44},"color":{"field":"phase","type":"nominal","scale":{"domain":["baseline","AITC","HC"],"range":["#000000","#f28a1e","#f7a468"]},"legend":null}}},
    {"data":{"name":"b_drugs"},"transform":[{"filter":"datum.level==2"}],"mark":{"type":"rule","strokeWidth":2},"encoding":{"x":{"field":"from","type":"quantitative"},"x2":{"field":"to"},"y":{"datum":1.545},"color":{"field":"phase","type":"nominal","scale":{"domain":["baseline","AITC","HC"],"range":["#000000","#f28a1e","#f7a468"]},"legend":null}}},
    {"data":{"name":"b_drugs"},"transform":[{"filter":"datum.level==1"}],"mark":{"type":"text","align":"left","baseline":"alphabetic","dy":-3},"encoding":{"x":{"field":"from","type":"quantitative"},"y":{"datum":1.44},"text":{"field":"label"}}},
    {"data":{"name":"b_drugs"},"transform":[{"filter":"datum.level==2"}],"mark":{"type":"text","align":"right","baseline":"alphabetic","dy":-3},"encoding":{"x":{"field":"to","type":"quantitative"},"y":{"datum":1.545},"text":{"field":"label"}}},
    {"data":{"values":[{"panel":"b"}]},"mark":{"type":"text","fontSize":18,"fontWeight":"bold","align":"left","baseline":"alphabetic","color":"#000"},"encoding":{"x":{"datum":-172},"y":{"datum":1.914},"text":{"field":"panel"}}}
   ]},
  {"width":43,"height":1,"data":{"values":[]},"mark":"point"},
  {"width":73,"height":134,
   "layer":[
    {"data":{"name":"c_sig"},"mark":{"type":"rule","strokeWidth":1.5,"color":"#222"},"encoding":{"x":{"field":"from","type":"quantitative","scale":{"domain":[-0.5,3.55],"nice":false,"zero":false},"axis":{"title":null,"values":[0,1,2,3],"ticks":false,"labels":false}},"x2":{"field":"to"},"y":{"field":"bracket","type":"quantitative","scale":{"domain":[0,100],"nice":false},"axis":{"title":"Responding cells (%)","values":[0,25,50,75,100]}}}},
    {"data":{"name":"c_sig"},"mark":{"type":"text","baseline":"alphabetic","dy":-1,"fontSize":13},"encoding":{"x":{"field":"mid","type":"quantitative"},"y":{"field":"bracket","type":"quantitative"},"text":{"field":"label"}}},
    {"data":{"name":"c_box"},"mark":{"type":"rule","strokeWidth":1.2,"color":"#000"},"encoding":{"x":{"field":"i","type":"quantitative"},"y":{"field":"lo","type":"quantitative"},"y2":{"field":"hi"}}},
    {"data":{"name":"c_box"},"mark":{"type":"bar","width":13,"stroke":"#000","strokeWidth":1},"encoding":{"x":{"field":"i","type":"quantitative"},"y":{"field":"q1","type":"quantitative"},"y2":{"field":"q3"},"color":{"field":"agent","type":"nominal","scale":{"domain":["OxPAPC","PGPC","POVPC","AITC"],"range":["#2e2b87","#9edcf2","#7193d6","#f2841f"]},"legend":null}}},
    {"data":{"name":"c_box"},"mark":{"type":"tick","orient":"horizontal","size":13,"thickness":1.5},"encoding":{"x":{"field":"i","type":"quantitative"},"y":{"field":"med","type":"quantitative"},"color":{"condition":{"test":"datum.agent==='OxPAPC'","value":"#ffffff"},"value":"#000000"}}},
    {"data":{"name":"c_box"},"mark":{"type":"point","shape":"square","filled":true,"size":14,"opacity":1},"encoding":{"x":{"field":"i","type":"quantitative"},"y":{"field":"mean","type":"quantitative"},"color":{"condition":{"test":"datum.agent==='OxPAPC'","value":"#ffffff"},"value":"#000000"}}},
    {"data":{"name":"c_pts"},"mark":{"type":"point","shape":"diamond","filled":true,"size":16,"color":"#222","opacity":1},"encoding":{"x":{"field":"i","type":"quantitative"},"y":{"field":"pct","type":"quantitative"}}},
    {"data":{"name":"c_box"},"mark":{"type":"text","angle":-50,"align":"right","baseline":"middle","fontSize":11,"color":"#222"},"encoding":{"x":{"field":"i","type":"quantitative"},"y":{"datum":-2.5},"text":{"field":"agent"}}},
    {"data":{"values":[{"panel":"c"}]},"mark":{"type":"text","fontSize":18,"fontWeight":"bold","align":"left","baseline":"alphabetic","color":"#000"},"encoding":{"x":{"datum":-1.89},"y":{"datum":127.6},"text":{"field":"panel"}}}
   ]},
  {"width":79,"height":1,"data":{"values":[]},"mark":"point"},
  {"width":85,"height":130,
   "layer":[
    {"data":{"name":"d_sig"},"mark":{"type":"rule","strokeWidth":1.5,"color":"#222"},"encoding":{"x":{"field":"from","type":"quantitative","scale":{"domain":[-0.8,3.45],"nice":false,"zero":false},"axis":{"title":null,"values":[0,1,2,3],"ticks":false,"labels":false}},"x2":{"field":"to"},"y":{"field":"bracket","type":"quantitative","scale":{"domain":[0,300],"nice":false},"axis":{"title":"Area under curve","values":[0,50,100,150,200,250,300]}}}},
    {"data":{"name":"d_sig"},"mark":{"type":"text","baseline":"alphabetic","dy":-1,"fontSize":13},"encoding":{"x":{"field":"mid","type":"quantitative"},"y":{"field":"bracket","type":"quantitative"},"text":{"field":"label"}}},
    {"data":{"name":"d_pts"},"mark":{"type":"point","filled":true,"size":55,"stroke":"#333","strokeWidth":0.6,"opacity":1},"encoding":{"x":{"field":"i","type":"quantitative"},"y":{"field":"auc","type":"quantitative"},"color":{"field":"agent","type":"nominal","scale":{"domain":["OxPAPC","PGPC","POVPC","AITC"],"range":["#2e2b87","#9edcf2","#7193d6","#f2841f"]},"legend":null},"shape":{"field":"agent","type":"nominal","scale":{"domain":["OxPAPC","PGPC","POVPC","AITC"],"range":["diamond","diamond","diamond","triangle-down"]},"legend":null}}},
    {"data":{"name":"d_mean"},"mark":{"type":"tick","orient":"horizontal","size":19,"thickness":2,"color":"#000"},"encoding":{"x":{"field":"i","type":"quantitative"},"y":{"field":"auc","type":"quantitative"}}},
    {"data":{"name":"d_mean"},"mark":{"type":"text","angle":-50,"align":"right","baseline":"middle","fontSize":11,"color":"#222"},"encoding":{"x":{"field":"i","type":"quantitative"},"y":{"datum":-8},"text":{"field":"agent"}}},
    {"data":{"values":[{"panel":"d"}]},"mark":{"type":"text","fontSize":18,"fontWeight":"bold","align":"left","baseline":"alphabetic","color":"#000"},"encoding":{"x":{"datum":-2.5},"y":{"datum":385},"text":{"field":"panel"}}}
   ]}
 ]},
 {"bounds":"flush","spacing":0,
  "resolve":{"scale":{"color":"independent","shape":"independent"},"legend":{"color":"independent","shape":"independent"}},
  "hconcat":[
  {"width":43,"height":1,"data":{"values":[]},"mark":"point"},
  {"width":133,"height":135,
   "layer":[
    {"data":{"name":"e_band"},"mark":{"type":"area","color":"#d6d6d6","opacity":1},"encoding":{"x":{"field":"time","type":"quantitative","scale":{"domain":[0,800],"nice":false},"axis":{"title":"Time (s)","titlePadding":0,"values":[0,100,200,300,400,500,600,700,800],"labelExpr":"datum.value % 200 == 0 ? datum.label : ''"}},"y":{"field":"lo","type":"quantitative","scale":{"domain":[0,1.2],"nice":false},"axis":{"title":"Ratio F(340/380)","values":[0,0.5,1],"format":"~g"}},"y2":{"field":"hi"}}},
    {"data":{"name":"e_grey"},"mark":{"type":"line","color":"#b5b5b5","strokeWidth":0.8},"encoding":{"x":{"field":"time","type":"quantitative"},"y":{"field":"ratio","type":"quantitative"},"detail":{"field":"cell","type":"nominal"}}},
    {"data":{"name":"e_mean"},"mark":{"type":"line","strokeWidth":2},"encoding":{"x":{"field":"time","type":"quantitative"},"y":{"field":"ratio","type":"quantitative"},"color":{"field":"phase","type":"nominal","scale":{"domain":["baseline","OxPAPC","Carv"],"range":["#000000","#2e2b87","#000000"]},"legend":null}}},
    {"data":{"name":"e_drugs"},"transform":[{"filter":"datum.level==1"}],"mark":{"type":"rule","strokeWidth":2},"encoding":{"x":{"field":"from","type":"quantitative"},"x2":{"field":"to"},"y":{"datum":1.0},"color":{"field":"phase","type":"nominal","scale":{"domain":["baseline","OxPAPC","Carv"],"range":["#000000","#2e2b87","#000000"]},"legend":null}}},
    {"data":{"name":"e_drugs"},"transform":[{"filter":"datum.level==2"}],"mark":{"type":"rule","strokeWidth":2},"encoding":{"x":{"field":"from","type":"quantitative"},"x2":{"field":"to"},"y":{"datum":1.1},"color":{"field":"phase","type":"nominal","scale":{"domain":["baseline","OxPAPC","Carv"],"range":["#000000","#2e2b87","#000000"]},"legend":null}}},
    {"data":{"name":"e_drugs"},"transform":[{"filter":"datum.level==1"}],"mark":{"type":"text","align":"left","baseline":"alphabetic","dy":-3},"encoding":{"x":{"field":"from","type":"quantitative"},"y":{"datum":1.0},"text":{"field":"label"}}},
    {"data":{"name":"e_drugs"},"transform":[{"filter":"datum.level==2"}],"mark":{"type":"text","align":"right","baseline":"alphabetic","dy":-3},"encoding":{"x":{"field":"to","type":"quantitative"},"y":{"datum":1.1},"text":{"field":"label"}}},
    {"data":{"values":[{"gene":"TRPA1-3C"}]},"mark":{"type":"text","fontSize":18,"align":"center","baseline":"alphabetic"},"encoding":{"x":{"datum":367},"y":{"datum":1.218},"text":{"field":"gene"}}},
    {"data":{"values":[{"panel":"e"}]},"mark":{"type":"text","fontSize":18,"fontWeight":"bold","align":"left","baseline":"alphabetic","color":"#000"},"encoding":{"x":{"datum":-192},"y":{"datum":1.227},"text":{"field":"panel"}}}
   ]},
  {"width":53,"height":1,"data":{"values":[]},"mark":"point"},
  {"width":133,"height":135,
   "layer":[
    {"data":{"name":"f_band"},"mark":{"type":"area","color":"#d6d6d6","opacity":1},"encoding":{"x":{"field":"time","type":"quantitative","scale":{"domain":[0,800],"nice":false},"axis":{"title":"Time (s)","titlePadding":0,"values":[0,100,200,300,400,500,600,700,800],"labelExpr":"datum.value % 200 == 0 ? datum.label : ''"}},"y":{"field":"lo","type":"quantitative","scale":{"domain":[0,1.2],"nice":false},"axis":{"title":"Ratio F(340/380)","values":[0,0.5,1],"format":"~g"}},"y2":{"field":"hi"}}},
    {"data":{"name":"f_grey"},"mark":{"type":"line","color":"#b5b5b5","strokeWidth":0.8},"encoding":{"x":{"field":"time","type":"quantitative"},"y":{"field":"ratio","type":"quantitative"},"detail":{"field":"cell","type":"nominal"}}},
    {"data":{"name":"f_mean"},"mark":{"type":"line","strokeWidth":2},"encoding":{"x":{"field":"time","type":"quantitative"},"y":{"field":"ratio","type":"quantitative"},"color":{"field":"phase","type":"nominal","scale":{"domain":["baseline","AITC","Carv"],"range":["#000000","#f28a1e","#000000"]},"legend":null}}},
    {"data":{"name":"f_drugs"},"transform":[{"filter":"datum.level==1"}],"mark":{"type":"rule","strokeWidth":2},"encoding":{"x":{"field":"from","type":"quantitative"},"x2":{"field":"to"},"y":{"datum":1.0},"color":{"field":"phase","type":"nominal","scale":{"domain":["baseline","AITC","Carv"],"range":["#000000","#f28a1e","#000000"]},"legend":null}}},
    {"data":{"name":"f_drugs"},"transform":[{"filter":"datum.level==2"}],"mark":{"type":"rule","strokeWidth":2},"encoding":{"x":{"field":"from","type":"quantitative"},"x2":{"field":"to"},"y":{"datum":1.1},"color":{"field":"phase","type":"nominal","scale":{"domain":["baseline","AITC","Carv"],"range":["#000000","#f28a1e","#000000"]},"legend":null}}},
    {"data":{"name":"f_drugs"},"transform":[{"filter":"datum.level==1"}],"mark":{"type":"text","align":"left","baseline":"alphabetic","dy":-3},"encoding":{"x":{"field":"from","type":"quantitative"},"y":{"datum":1.0},"text":{"field":"label"}}},
    {"data":{"name":"f_drugs"},"transform":[{"filter":"datum.level==2"}],"mark":{"type":"text","align":"right","baseline":"alphabetic","dy":-3},"encoding":{"x":{"field":"to","type":"quantitative"},"y":{"datum":1.1},"text":{"field":"label"}}},
    {"data":{"values":[{"panel":"f"}]},"mark":{"type":"text","fontSize":18,"fontWeight":"bold","align":"left","baseline":"alphabetic","color":"#000"},"encoding":{"x":{"datum":-192},"y":{"datum":1.227},"text":{"field":"panel"}}}
   ]},
  {"width":75,"height":1,"data":{"values":[]},"mark":"point"},
  {"width":99,"height":135,
   "layer":[
    {"data":{"name":"g_pts"},"mark":{"type":"line","color":"#111","strokeWidth":2.5},"encoding":{"x":{"field":"stage","type":"quantitative","scale":{"domain":[-0.7,2.2],"nice":false,"zero":false},"axis":{"title":"Agonist","titlePadding":0,"values":[0,1,2],"labelExpr":"datum.value==0?'Basal':datum.value==2?'Carv.':''"}},"y":{"field":"peak","type":"quantitative","scale":{"domain":[0,0.51],"nice":false},"axis":{"title":"Peak F(340/380)","values":[0,0.1,0.2,0.3,0.4,0.5],"format":"~g"}},"detail":{"field":"agonist","type":"nominal"}}},
    {"data":{"name":"g_err"},"mark":{"type":"rule","strokeWidth":1.5,"color":"#000"},"encoding":{"x":{"field":"stage","type":"quantitative"},"y":{"field":"lo","type":"quantitative"},"y2":{"field":"hi"}}},
    {"data":{"name":"g_err"},"mark":{"type":"tick","orient":"horizontal","size":7,"thickness":2,"color":"#000"},"encoding":{"x":{"field":"stage","type":"quantitative"},"y":{"field":"lo","type":"quantitative"}}},
    {"data":{"name":"g_err"},"mark":{"type":"tick","orient":"horizontal","size":7,"thickness":2,"color":"#000"},"encoding":{"x":{"field":"stage","type":"quantitative"},"y":{"field":"hi","type":"quantitative"}}},
    {"data":{"name":"g_pts"},"mark":{"type":"point","filled":true,"size":70,"stroke":"#000","strokeWidth":0.8,"opacity":1},"encoding":{"x":{"field":"stage","type":"quantitative"},"y":{"field":"peak","type":"quantitative"},"color":{"field":"agonist","type":"nominal","scale":{"domain":["OxPAPC","AITC"],"range":["#2e2b87","#f28a1e"]},"legend":{"title":null,"orient":"none","legendX":18,"legendY":-6,"labelFontSize":12,"symbolSize":70,"symbolStrokeColor":"#000","symbolStrokeWidth":0.8,"rowPadding":2}},"shape":{"field":"agonist","type":"nominal","scale":{"domain":["OxPAPC","AITC"],"range":["diamond","triangle-down"]},"legend":{"title":null,"orient":"none","legendX":18,"legendY":-6,"labelFontSize":12,"symbolSize":70,"symbolStrokeColor":"#000","symbolStrokeWidth":0.8,"rowPadding":2}}}},
    {"data":{"values":[{"sig":"*"}]},"mark":{"type":"text","align":"left","fontSize":13,"lineHeight":12,"baseline":"middle"},"encoding":{"x":{"datum":2.1},"y":{"datum":0.33},"text":{"value":["*","*"]}}},
    {"data":{"values":[{"panel":"g"}]},"mark":{"type":"text","fontSize":18,"fontWeight":"bold","align":"left","baseline":"alphabetic","color":"#000"},"encoding":{"x":{"datum":-1.26},"y":{"datum":0.529},"text":{"field":"panel"}}}
   ]}
 ]},
 {"width":10,"height":2,"data":{"values":[]},"mark":"point"},
 {"bounds":"flush","spacing":0,
  "resolve":{"scale":{"color":"independent","shape":"independent"},"legend":{"color":"independent","shape":"independent"}},
  "hconcat":[
  {"width":44,"height":1,"data":{"values":[]},"mark":"point"},
  {"width":88,"height":71,
   "layer":[
    {"data":{"name":"h_full"},"transform":[{"filter":"datum.sample==='pep'"}],"mark":{"type":"area","opacity":1},"encoding":{"x":{"field":"mz","type":"quantitative","scale":{"domain":[1529,1561],"nice":false,"zero":false},"axis":{"title":"m/z (Th)","values":[1530,1540,1550,1560],"labels":false,"titlePadding":14}},"y":{"field":"intensity","type":"quantitative","stack":null,"scale":{"domain":[0,64000],"nice":false},"axis":{"title":"Intensity (A. U.)","titlePadding":0,"labelFontSize":10.5,"values":[0,20000,40000,60000],"labelExpr":"datum.value==0?'0':(datum.value/10000)+'x10⁴'"}},"color":{"field":"sample","type":"nominal","scale":{"domain":["pep","ox50","ox500"],"range":["#ffc20e","#ee1c25","#1a1aeb"]},"legend":null}}},
    {"data":{"name":"h_full"},"transform":[{"filter":"datum.sample==='ox50'"}],"mark":{"type":"area","opacity":1},"encoding":{"x":{"field":"mz","type":"quantitative"},"y":{"field":"intensity","type":"quantitative","stack":null},"color":{"field":"sample","type":"nominal","scale":{"domain":["pep","ox50","ox500"],"range":["#ffc20e","#ee1c25","#1a1aeb"]},"legend":null}}},
    {"data":{"name":"h_full"},"transform":[{"filter":"datum.sample==='ox500'"}],"mark":{"type":"area","opacity":1},"encoding":{"x":{"field":"mz","type":"quantitative"},"y":{"field":"intensity","type":"quantitative","stack":null},"color":{"field":"sample","type":"nominal","scale":{"domain":["pep","ox50","ox500"],"range":["#ffc20e","#ee1c25","#1a1aeb"]},"legend":null}}},
    {"data":{"name":"h_ticks"},"mark":{"type":"text","align":"center","baseline":"top","fontSize":11,"color":"#222"},"encoding":{"x":{"field":"mz","type":"quantitative"},"y":{"datum":-4500},"text":{"field":"mz","type":"nominal"}}},
    {"data":{"values":[{"zoom":"region"}]},"mark":{"type":"rect","fillOpacity":0,"stroke":"#000","strokeDash":[3,2],"strokeWidth":1.2},"encoding":{"x":{"datum":1532},"x2":{"datum":1537.5},"y":{"datum":0},"y2":{"datum":64000}}},
    {"data":{"values":[{"zoom":"arrow"}]},"mark":{"type":"rule","strokeWidth":1.5,"color":"#222"},"encoding":{"x":{"datum":1538},"y":{"datum":52000},"x2":{"datum":1569},"y2":{"datum":22500}}},
    {"data":{"values":[{"zoom":"arrow"}]},"mark":{"type":"point","shape":"triangle-right","angle":21,"size":90,"filled":true,"color":"#222","opacity":1},"encoding":{"x":{"datum":1569.5},"y":{"datum":22000}}},
    {"data":{"values":[{"panel":"h"}]},"mark":{"type":"text","fontSize":18,"fontWeight":"bold","align":"left","baseline":"alphabetic","color":"#000"},"encoding":{"x":{"datum":1515.5},"y":{"datum":67600},"text":{"field":"panel"}}}
   ]},
  {"width":70,"height":1,"data":{"values":[]},"mark":"point"},
  {"width":127,"height":145,
   "layer":[
    {"data":{"name":"h_zoom"},"transform":[{"filter":"datum.sample==='pep'"}],"mark":{"type":"line","strokeWidth":1.3,"clip":true},"encoding":{"x":{"field":"mz","type":"quantitative","scale":{"domain":[1531.85,1537.05],"nice":false,"zero":false},"axis":{"title":"m/z (Th)","values":[1533,1534,1535,1536,1537],"format":"d","labelExpr":"datum.value % 2 == 1 ? datum.label : ''"}},"y":{"field":"intensity","type":"quantitative","scale":{"domain":[0,66000],"nice":false,"range":[145,47]},"axis":{"title":"Intensity (A. U.)","values":[0,20000,40000,60000],"labelExpr":"datum.value==0?'0':(datum.value/10000)+'x10⁴'"}},"color":{"field":"sample","type":"nominal","scale":{"domain":["pep","ox50","ox500"],"range":["#ffc20e","#ee1c25","#1a1aeb"]},"legend":{"title":null,"orient":"none","legendX":10,"legendY":4,"symbolType":"stroke","symbolStrokeWidth":3,"symbolSize":200,"labelFontSize":12,"rowPadding":1,"labelExpr":"datum.label=='pep'?'TRPA1 peptide':datum.label=='ox50'?'+ OxPAPC 50 μM':'+ OxPAPC 500 μM'"}}}},
    {"data":{"name":"h_zoom"},"transform":[{"filter":"datum.sample==='ox50'"}],"mark":{"type":"line","strokeWidth":1.3,"clip":true},"encoding":{"x":{"field":"mz","type":"quantitative"},"y":{"field":"intensity","type":"quantitative"},"color":{"field":"sample","type":"nominal","scale":{"domain":["pep","ox50","ox500"],"range":["#ffc20e","#ee1c25","#1a1aeb"]},"legend":{"title":null,"orient":"none","legendX":10,"legendY":4,"symbolType":"stroke","symbolStrokeWidth":3,"symbolSize":200,"labelFontSize":12,"rowPadding":1,"labelExpr":"datum.label=='pep'?'TRPA1 peptide':datum.label=='ox50'?'+ OxPAPC 50 μM':'+ OxPAPC 500 μM'"}}}},
    {"data":{"name":"h_zoom"},"transform":[{"filter":"datum.sample==='ox500'"}],"mark":{"type":"line","strokeWidth":1.3,"clip":true},"encoding":{"x":{"field":"mz","type":"quantitative"},"y":{"field":"intensity","type":"quantitative"},"color":{"field":"sample","type":"nominal","scale":{"domain":["pep","ox50","ox500"],"range":["#ffc20e","#ee1c25","#1a1aeb"]},"legend":{"title":null,"orient":"none","legendX":10,"legendY":4,"symbolType":"stroke","symbolStrokeWidth":3,"symbolSize":200,"labelFontSize":12,"rowPadding":1,"labelExpr":"datum.label=='pep'?'TRPA1 peptide':datum.label=='ox50'?'+ OxPAPC 50 μM':'+ OxPAPC 500 μM'"}}}}
   ]},
  {"width":43,"height":1,"data":{"values":[]},"mark":"point"},
  {"width":132,"height":145,
   "layer":[
    {"data":{"name":"ij"},"transform":[{"filter":"datum.sample==='pep'"}],"mark":{"type":"line","strokeWidth":1.3,"clip":true},"encoding":{"x":{"field":"mz","type":"quantitative","scale":{"domain":[7657.5,7679],"nice":false,"zero":false},"axis":{"title":"m/z (Th)","values":[7660,7664,7668,7672,7676],"format":"d","labelExpr":"(datum.value-7660) % 8 == 0 ? datum.label : ''"}},"y":{"field":"intensity","type":"quantitative","scale":{"domain":[0,31000],"nice":false,"range":[145,47]},"axis":{"title":"Intensity (A. U.)","values":[0,10000,20000,30000],"labelExpr":"datum.value==0?'0':(datum.value/10000)+'x10⁴'"}},"color":{"field":"sample","type":"nominal","scale":{"domain":["pep","ox50"],"range":["#ffc20e","#ee1c25"]},"legend":{"title":null,"orient":"none","legendX":9,"legendY":3,"symbolType":"stroke","symbolStrokeWidth":3,"symbolSize":200,"labelFontSize":12,"rowPadding":1,"labelExpr":"datum.label=='pep'?'TRPA1 peptide':'+ OxPAPC 50 μM'"}}}},
    {"data":{"name":"ij"},"transform":[{"filter":"datum.sample==='ox50'"}],"mark":{"type":"line","strokeWidth":1.3,"clip":true},"encoding":{"x":{"field":"mz","type":"quantitative"},"y":{"field":"intensity","type":"quantitative"},"color":{"field":"sample","type":"nominal","scale":{"domain":["pep","ox50"],"range":["#ffc20e","#ee1c25"]},"legend":{"title":null,"orient":"none","legendX":9,"legendY":3,"symbolType":"stroke","symbolStrokeWidth":3,"symbolSize":200,"labelFontSize":12,"rowPadding":1,"labelExpr":"datum.label=='pep'?'TRPA1 peptide':'+ OxPAPC 50 μM'"}}}},
    {"data":{"values":[{"delta":"Δ = 2","from":7666,"to":7668,"mid":7667}]},"mark":{"type":"rule","strokeWidth":2.5,"color":"#222"},"encoding":{"x":{"field":"from","type":"quantitative"},"x2":{"field":"to"},"y":{"datum":30600}}},
    {"data":{"values":[{"delta":"Δ = 2","from":7666,"to":7668,"mid":7667}]},"mark":{"type":"text","baseline":"alphabetic","dy":-4},"encoding":{"x":{"field":"mid","type":"quantitative"},"y":{"datum":30600},"text":{"field":"delta"}}},
    {"data":{"values":[{"panel":"i"}]},"mark":{"type":"text","fontSize":18,"fontWeight":"bold","align":"left","baseline":"alphabetic","color":"#000"},"encoding":{"x":{"datum":7652.5},"y":{"datum":33500},"text":{"field":"panel"}}}
   ]},
  {"width":44,"height":1,"data":{"values":[]},"mark":"point"},
  {"width":121,"height":145,
   "layer":[
    {"data":{"name":"ij"},"transform":[{"filter":"datum.sample==='pep'"}],"mark":{"type":"line","strokeWidth":1.3,"clip":true},"encoding":{"x":{"field":"mz","type":"quantitative","scale":{"domain":[7657.5,7679],"nice":false,"zero":false},"axis":{"title":"m/z (Th)","values":[7660,7664,7668,7672,7676],"format":"d","labelExpr":"(datum.value-7660) % 8 == 0 ? datum.label : ''"}},"y":{"field":"intensity","type":"quantitative","scale":{"domain":[0,31000],"nice":false,"range":[145,47]},"axis":{"title":"Intensity (A. U.)","values":[0,10000,20000,30000],"labelExpr":"datum.value==0?'0':(datum.value/10000)+'x10⁴'"}},"color":{"field":"sample","type":"nominal","scale":{"domain":["pep","ox500"],"range":["#ffc20e","#1a1aeb"]},"legend":{"title":null,"orient":"none","legendX":2,"legendY":3,"symbolType":"stroke","symbolStrokeWidth":3,"symbolSize":200,"labelFontSize":11.5,"rowPadding":1,"labelExpr":"datum.label=='pep'?'TRPA1 peptide':'+ OxPAPC 500 μM'"}}}},
    {"data":{"name":"ij"},"transform":[{"filter":"datum.sample==='ox500'"}],"mark":{"type":"line","strokeWidth":1.3,"clip":true},"encoding":{"x":{"field":"mz","type":"quantitative"},"y":{"field":"intensity","type":"quantitative"},"color":{"field":"sample","type":"nominal","scale":{"domain":["pep","ox500"],"range":["#ffc20e","#1a1aeb"]},"legend":{"title":null,"orient":"none","legendX":2,"legendY":3,"symbolType":"stroke","symbolStrokeWidth":3,"symbolSize":200,"labelFontSize":11.5,"rowPadding":1,"labelExpr":"datum.label=='pep'?'TRPA1 peptide':'+ OxPAPC 500 μM'"}}}},
    {"data":{"values":[{"delta":"Δ = 4","from":7664,"to":7668,"mid":7666}]},"mark":{"type":"rule","strokeWidth":2.5,"color":"#222"},"encoding":{"x":{"field":"from","type":"quantitative"},"x2":{"field":"to"},"y":{"datum":30600}}},
    {"data":{"values":[{"delta":"Δ = 4","from":7664,"to":7668,"mid":7666}]},"mark":{"type":"text","baseline":"alphabetic","dy":-4},"encoding":{"x":{"field":"mid","type":"quantitative"},"y":{"datum":30600},"text":{"field":"delta"}}},
    {"data":{"values":[{"panel":"j"}]},"mark":{"type":"text","fontSize":18,"fontWeight":"bold","align":"left","baseline":"alphabetic","color":"#000"},"encoding":{"x":{"datum":7651},"y":{"datum":33500},"text":{"field":"panel"}}}
   ]}
 ]},
 {"width":10,"height":10,"data":{"values":[]},"mark":"point"},
 {"bounds":"flush","spacing":0,
  "resolve":{"scale":{"color":"independent","shape":"independent"},"legend":{"color":"independent","shape":"independent"}},
  "hconcat":[
  {"width":45,"height":1,"data":{"values":[]},"mark":"point"},
  {"width":132,"height":134,
   "layer":[
    {"data":{"name":"k_band"},"mark":{"type":"area","color":"#d6d6d6","opacity":1},"encoding":{"x":{"field":"time","type":"quantitative","scale":{"domain":[0,680],"nice":false},"axis":{"title":null,"values":[0,100,200,300,400,500,600],"labelExpr":"datum.value % 200 == 0 ? datum.label : ''"}},"y":{"field":"lo","type":"quantitative","scale":{"domain":[0,1.5],"nice":false},"axis":{"title":"Ratio F(340/380)","values":[0,0.5,1,1.5],"format":"~g"}},"y2":{"field":"hi"}}},
    {"data":{"name":"k_grey"},"mark":{"type":"line","color":"#b5b5b5","strokeWidth":0.8},"encoding":{"x":{"field":"time","type":"quantitative"},"y":{"field":"ratio","type":"quantitative"},"detail":{"field":"cell","type":"nominal"}}},
    {"data":{"name":"k_mean"},"mark":{"type":"line","strokeWidth":2},"encoding":{"x":{"field":"time","type":"quantitative"},"y":{"field":"ratio","type":"quantitative"},"color":{"field":"phase","type":"nominal","scale":{"domain":["baseline","OxPAPC","BCTC"],"range":["#000000","#a0418a","#e8157a"]},"legend":null}}},
    {"data":{"name":"k_drugs"},"transform":[{"filter":"datum.level==1"}],"mark":{"type":"rule","strokeWidth":2},"encoding":{"x":{"field":"from","type":"quantitative"},"x2":{"field":"to"},"y":{"datum":1.44},"color":{"field":"phase","type":"nominal","scale":{"domain":["baseline","OxPAPC","BCTC"],"range":["#000000","#a0418a","#e8157a"]},"legend":null}}},
    {"data":{"name":"k_drugs"},"transform":[{"filter":"datum.level==2"}],"mark":{"type":"rule","strokeWidth":2},"encoding":{"x":{"field":"from","type":"quantitative"},"x2":{"field":"to"},"y":{"datum":1.545},"color":{"field":"phase","type":"nominal","scale":{"domain":["baseline","OxPAPC","BCTC"],"range":["#000000","#a0418a","#e8157a"]},"legend":null}}},
    {"data":{"name":"k_drugs"},"transform":[{"filter":"datum.level==1"}],"mark":{"type":"text","align":"left","baseline":"alphabetic","dy":-3},"encoding":{"x":{"field":"from","type":"quantitative"},"y":{"datum":1.44},"text":{"field":"label"}}},
    {"data":{"name":"k_drugs"},"transform":[{"filter":"datum.level==2"}],"mark":{"type":"text","align":"right","baseline":"alphabetic","dy":-3},"encoding":{"x":{"field":"to","type":"quantitative"},"y":{"datum":1.545},"text":{"field":"label"}}},
    {"data":{"values":[{"gene":"TRPV1"}]},"mark":{"type":"text","fontSize":18,"align":"center","baseline":"alphabetic"},"encoding":{"x":{"datum":185},"y":{"datum":1.8},"text":{"field":"gene"}}},
    {"data":{"values":[{"panel":"k"}]},"mark":{"type":"text","fontSize":18,"fontWeight":"bold","align":"left","baseline":"alphabetic","color":"#000"},"encoding":{"x":{"datum":-190},"y":{"datum":1.802},"text":{"field":"panel"}}}
   ]},
  {"width":51,"height":1,"data":{"values":[]},"mark":"point"},
  {"width":134,"height":134,
   "layer":[
    {"data":{"name":"l_band"},"mark":{"type":"area","color":"#d6d6d6","opacity":1},"encoding":{"x":{"field":"time","type":"quantitative","scale":{"domain":[0,680],"nice":false},"axis":{"title":"Time (s)","values":[0,100,200,300,400,500,600],"labelExpr":"datum.value % 200 == 0 ? datum.label : ''"}},"y":{"field":"lo","type":"quantitative","scale":{"domain":[0,1.5],"nice":false},"axis":{"title":"Ratio F(340/380)","values":[0,0.5,1,1.5],"format":"~g"}},"y2":{"field":"hi"}}},
    {"data":{"name":"l_grey"},"mark":{"type":"line","color":"#b5b5b5","strokeWidth":0.8},"encoding":{"x":{"field":"time","type":"quantitative"},"y":{"field":"ratio","type":"quantitative"},"detail":{"field":"cell","type":"nominal"}}},
    {"data":{"name":"l_mean"},"mark":{"type":"line","strokeWidth":2},"encoding":{"x":{"field":"time","type":"quantitative"},"y":{"field":"ratio","type":"quantitative"},"color":{"field":"phase","type":"nominal","scale":{"domain":["baseline","Cap","BCTC"],"range":["#000000","#e3211c","#e8157a"]},"legend":null}}},
    {"data":{"name":"l_drugs"},"transform":[{"filter":"datum.level==1"}],"mark":{"type":"rule","strokeWidth":2},"encoding":{"x":{"field":"from","type":"quantitative"},"x2":{"field":"to"},"y":{"datum":1.44},"color":{"field":"phase","type":"nominal","scale":{"domain":["baseline","Cap","BCTC"],"range":["#000000","#e3211c","#e8157a"]},"legend":null}}},
    {"data":{"name":"l_drugs"},"transform":[{"filter":"datum.level==2"}],"mark":{"type":"rule","strokeWidth":2},"encoding":{"x":{"field":"from","type":"quantitative"},"x2":{"field":"to"},"y":{"datum":1.545},"color":{"field":"phase","type":"nominal","scale":{"domain":["baseline","Cap","BCTC"],"range":["#000000","#e3211c","#e8157a"]},"legend":null}}},
    {"data":{"name":"l_drugs"},"transform":[{"filter":"datum.level==1"}],"mark":{"type":"text","align":"left","baseline":"alphabetic","dy":-3},"encoding":{"x":{"field":"from","type":"quantitative"},"y":{"datum":1.44},"text":{"field":"label"}}},
    {"data":{"name":"l_drugs"},"transform":[{"filter":"datum.level==2"}],"mark":{"type":"text","align":"right","baseline":"alphabetic","dy":-3},"encoding":{"x":{"field":"to","type":"quantitative"},"y":{"datum":1.545},"text":{"field":"label"}}},
    {"data":{"values":[{"panel":"l"}]},"mark":{"type":"text","fontSize":18,"fontWeight":"bold","align":"left","baseline":"alphabetic","color":"#000"},"encoding":{"x":{"datum":-178},"y":{"datum":1.78},"text":{"field":"panel"}}}
   ]},
  {"width":44,"height":1,"data":{"values":[]},"mark":"point"},
  {"width":101,"height":133,
   "layer":[
    {"data":{"name":"m_sig"},"mark":{"type":"rule","strokeWidth":1.5,"color":"#222"},"encoding":{"x":{"field":"from","type":"quantitative","scale":{"domain":[-0.67,4.5],"nice":false,"zero":false},"axis":{"title":null,"values":[0,1,2,3,4],"ticks":false,"labels":false}},"x2":{"field":"to"},"y":{"field":"bracket","type":"quantitative","scale":{"domain":[0,100],"nice":false},"axis":{"title":"Responding cells (%)","values":[0,25,50,75,100]}}}},
    {"data":{"name":"m_sig"},"mark":{"type":"text","baseline":"alphabetic","dy":-1,"fontSize":12},"encoding":{"x":{"field":"mid","type":"quantitative"},"y":{"field":"bracket","type":"quantitative"},"text":{"field":"label"}}},
    {"data":{"name":"m_box"},"mark":{"type":"rule","strokeWidth":1.2,"color":"#000"},"encoding":{"x":{"field":"i","type":"quantitative"},"y":{"field":"lo","type":"quantitative"},"y2":{"field":"hi"}}},
    {"data":{"name":"m_box"},"mark":{"type":"bar","width":14,"stroke":"#000","strokeWidth":1},"encoding":{"x":{"field":"i","type":"quantitative"},"y":{"field":"q1","type":"quantitative"},"y2":{"field":"q3"},"color":{"field":"agent","type":"nominal","scale":{"domain":["OxPAPC 30","PGPC","POVPC","Cap"],"range":["#a0418a","#a6dff5","#7193d6","#e8262b"]},"legend":null}}},
    {"data":{"name":"m_box"},"mark":{"type":"tick","orient":"horizontal","size":14,"thickness":1.5,"color":"#000"},"encoding":{"x":{"field":"i","type":"quantitative"},"y":{"field":"med","type":"quantitative"}}},
    {"data":{"name":"m_box"},"mark":{"type":"point","shape":"square","filled":true,"size":14,"color":"#000","opacity":1},"encoding":{"x":{"field":"i","type":"quantitative"},"y":{"field":"mean","type":"quantitative"}}},
    {"data":{"name":"m_pts"},"mark":{"type":"point","shape":"diamond","filled":true,"size":16,"color":"#222","opacity":1},"encoding":{"x":{"field":"i","type":"quantitative"},"y":{"field":"pct","type":"quantitative"}}},
    {"data":{"name":"mn_cats"},"transform":[{"filter":"datum.tier==1"}],"mark":{"type":"text","align":"center","baseline":"top","fontSize":12,"color":"#222"},"encoding":{"x":{"field":"i","type":"quantitative"},"y":{"datum":-4.5},"text":{"field":"cat"}}},
    {"data":{"name":"mn_cats"},"transform":[{"filter":"datum.tier==2"}],"mark":{"type":"text","align":"center","baseline":"top","fontSize":12,"color":"#222","dy":13},"encoding":{"x":{"field":"i","type":"quantitative"},"y":{"datum":-4.5},"text":{"field":"cat"}}},
    {"data":{"values":[{"drug":"OxPAPC"}]},"mark":{"type":"text","align":"left","baseline":"top","lineHeight":13,"fontSize":12},"encoding":{"x":{"datum":-2.1},"y":{"datum":-4.5},"text":{"value":["OxPAPC","(μM)"]}}},
    {"data":{"values":[{"panel":"m"}]},"mark":{"type":"text","fontSize":18,"fontWeight":"bold","align":"left","baseline":"alphabetic","color":"#000"},"encoding":{"x":{"datum":-2.0},"y":{"datum":121.8},"text":{"field":"panel"}}}
   ]},
  {"width":43,"height":1,"data":{"values":[]},"mark":"point"},
  {"width":115,"height":130,
   "layer":[
    {"data":{"name":"n_sig"},"mark":{"type":"rule","strokeWidth":1.5,"color":"#222"},"encoding":{"x":{"field":"from","type":"quantitative","scale":{"domain":[-0.9,4.3],"nice":false,"zero":false},"axis":{"title":null,"values":[0,1,2,3,4],"ticks":false,"labels":false}},"x2":{"field":"to"},"y":{"field":"bracket","type":"quantitative","scale":{"domain":[0,256],"nice":false},"axis":{"title":"Area under curve","values":[0,50,100,150,200,250]}}}},
    {"data":{"name":"n_sig"},"mark":{"type":"text","baseline":"alphabetic","dy":-1,"fontSize":12},"encoding":{"x":{"field":"mid","type":"quantitative"},"y":{"field":"bracket","type":"quantitative"},"text":{"field":"label"}}},
    {"data":{"name":"n_pts"},"mark":{"type":"point","filled":true,"size":55,"stroke":"#333","strokeWidth":0.6,"opacity":1},"encoding":{"x":{"field":"i","type":"quantitative"},"y":{"field":"auc","type":"quantitative"},"color":{"field":"agent","type":"nominal","scale":{"domain":["OxPAPC 10","OxPAPC 30","PGPC","POVPC","Cap"],"range":["#2e2b87","#a0418a","#a6dff5","#7193d6","#e8262b"]},"legend":null},"shape":{"field":"agent","type":"nominal","scale":{"domain":["OxPAPC 10","OxPAPC 30","PGPC","POVPC","Cap"],"range":["diamond","diamond","diamond","diamond","triangle-up"]},"legend":null}}},
    {"data":{"name":"n_mean"},"mark":{"type":"tick","orient":"horizontal","size":20,"thickness":2,"color":"#000"},"encoding":{"x":{"field":"i","type":"quantitative"},"y":{"field":"auc","type":"quantitative"}}},
    {"data":{"name":"mn_cats"},"transform":[{"filter":"datum.tier==1"}],"mark":{"type":"text","align":"center","baseline":"top","fontSize":12,"color":"#222"},"encoding":{"x":{"field":"i","type":"quantitative"},"y":{"datum":-11},"text":{"field":"cat"}}},
    {"data":{"name":"mn_cats"},"transform":[{"filter":"datum.tier==2"}],"mark":{"type":"text","align":"center","baseline":"top","fontSize":12,"color":"#222","dy":13},"encoding":{"x":{"field":"i","type":"quantitative"},"y":{"datum":-11},"text":{"field":"cat"}}},
    {"data":{"values":[{"drug":"OxPAPC"}]},"mark":{"type":"text","align":"left","baseline":"top","lineHeight":13,"fontSize":12},"encoding":{"x":{"datum":-2.2},"y":{"datum":-11},"text":{"value":["OxPAPC","(μM)"]}}},
    {"data":{"values":[{"panel":"n"}]},"mark":{"type":"text","fontSize":18,"fontWeight":"bold","align":"left","baseline":"alphabetic","color":"#000"},"encoding":{"x":{"datum":-2.08},"y":{"datum":313},"text":{"field":"panel"}}}
   ]}
 ]}
]
}
